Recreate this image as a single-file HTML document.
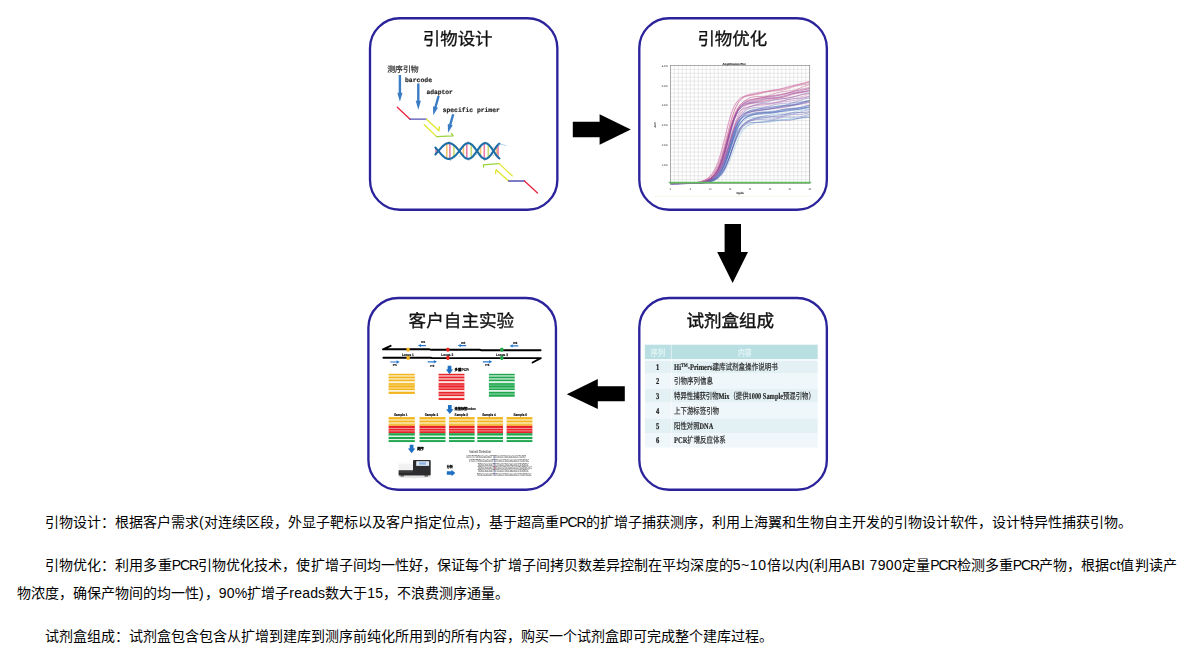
<!DOCTYPE html>
<html lang="zh-CN">
<head>
<meta charset="utf-8">
<title>引物设计</title>
<style>
html,body{margin:0;padding:0;background:#fff;}
body{width:1190px;height:660px;overflow:hidden;position:relative;font-family:"Liberation Sans",sans-serif;color:#000;}
#fig{position:absolute;left:0;top:0;width:1190px;height:505px;}
.box{position:absolute;box-sizing:border-box;width:190px;height:194px;border:2.4px solid #2c259d;border-radius:31px;background:#fff;}
.ttl{position:absolute;font-size:17.4px;line-height:20px;color:#161616;white-space:nowrap;}
#b1{left:369px;top:17px;}
#b2{left:638px;top:17px;}
#b3{left:367.2px;top:296.8px;}
#b4{left:638px;top:296.8px;}
svg text{font-family:"Liberation Sans",sans-serif;text-rendering:geometricPrecision;}
svg .im{filter:blur(0.45px);}
svg .tt{filter:blur(0.25px);}
svg text.mono{font-family:"Liberation Mono",monospace;}
svg text.serif{font-family:"Liberation Serif",serif;}
p{position:absolute;margin:0;left:17px;width:1159.7px;text-align:justify;font-size:14px;line-height:28px;text-indent:28px;color:#000;}
#p1{top:507.5px;}
#p2{top:550.5px;}
#p3{top:621.5px;}
.n{letter-spacing:-1.1px;}
.w1{letter-spacing:0.62px;}
.w2{letter-spacing:0.31px;}
.w3{letter-spacing:0.2px;}
.w4{letter-spacing:1px;}
</style>
</head>
<body>
<div id="fig">
  <svg id="art" width="1190" height="505" viewBox="0 0 1190 505" style="position:absolute;left:0;top:0">
    <g id="boxes" class="tt" fill="#fff" stroke="#2b239b" stroke-width="2.35">
      <rect x="370" y="18.25" width="187.35" height="191.5" rx="29.8" ry="29.8"/>
      <rect x="639.3" y="18.25" width="187.55" height="191.5" rx="29.8" ry="29.8"/>
      <rect x="368.4" y="297.95" width="187.55" height="191.75" rx="29.8" ry="29.8"/>
      <rect x="639.3" y="297.95" width="187.55" height="191.75" rx="29.8" ry="29.8"/>
    </g>
    <g id="arrows" fill="#000">
      <polygon points="572.8,121.8 599.6,121.8 599.6,114.3 630.8,129.4 599.6,144.8 599.6,137.2 572.8,137.2"/>
      <polygon points="724.6,224 741,224 741,252 748,252 732.6,283 717.2,252 724.6,252"/>
      <polygon points="624.8,386.2 597.8,386.2 597.8,379 566.8,394.2 597.8,409 597.8,401.3 624.8,401.3"/>
    </g>
    <g id="titles" class="tt" font-size="17.45" fill="#111" stroke="#111" stroke-width="0.32">
      <text x="422.8" y="45.2">引物设计</text>
      <text x="697.4" y="45.2">引物优化</text>
      <text x="408.6" y="327.2" font-size="17.6">客户自主实验</text>
      <text x="686.5" y="327.3" font-size="17.55" font-weight="500" stroke-width="0.42">试剂盒组成</text>
    </g>
    <g id="g1" class="im">
<text transform="translate(387.2,71.6) scale(0.0994,0.1)" font-size="79" fill="#303030" stroke="#303030" stroke-width="2.2">测序引物</text>
<text transform="translate(405,82) scale(0.1004,0.1)" font-size="64" class="mono" font-weight="bold" fill="#1c1c1c" stroke="#1c1c1c" stroke-width="1.6">barcode</text>
<text transform="translate(426.4,94.3) scale(0.0982,0.1)" font-size="64" class="mono" font-weight="bold" fill="#1c1c1c" stroke="#1c1c1c" stroke-width="1.6">adaptor</text>
<text transform="translate(442.7,112.4) scale(0.0991,0.1)" font-size="64" class="mono" font-weight="bold" fill="#1c1c1c" stroke="#1c1c1c" stroke-width="1.6">specific primer</text>
<polygon points="398.7,74.9 398.7,92.8 397.3,92.8 399.9,101.8 402.5,92.8 401.1,92.8 401.1,74.9" fill="#3b7dc4"/>
<polygon points="417.1,83.4 417.1,100.8 415.7,100.8 418.3,109.8 420.9,100.8 419.5,100.8 419.5,83.4" fill="#3b7dc4"/>
<polygon points="437.44,95.68 434.35,106.69 433,106.31 433.2,115.2 438,107.72 436.66,107.34 439.76,96.32" fill="#3b7dc4"/>
<polygon points="452.04,113.88 449.13,124.29 447.78,123.91 448,132.8 452.79,125.31 451.44,124.94 454.36,114.52" fill="#3b7dc4"/>
<g fill="none" stroke-width="1.3" stroke-linecap="round" stroke-linejoin="round">
<path d="M397.3 107.3 L410.1 119.2" stroke="#ea2340"/>
<path d="M410.1 119.2 H426.5" stroke="#5350b4"/>
<path d="M426.5 119.2 L439 130.8 L439.3 126.6" stroke="#dfe62b"/>
<path d="M424.2 124.8 L436.7 136.6" stroke="#dfe62b"/>
<path d="M436.7 136.6 L453.2 135.9 L451.4 133.5" stroke="#9bd43c"/>
<path d="M483.7 167 L483.3 164.8 L499.2 163.6" stroke="#9bd43c"/>
<path d="M499.2 163.6 L512.3 175.9" stroke="#dfe62b"/>
<path d="M495.5 173.6 L496.1 169.7 L508.6 181" stroke="#dfe62b"/>
<path d="M508.6 181 H524.5" stroke="#5350b4"/>
<path d="M524.5 181 L537.5 193" stroke="#ea2340"/>
</g>
<line x1="436" y1="148.52" x2="436" y2="153.48" stroke="#e77ba9" stroke-width="1.6"/>
<line x1="446.8" y1="143.79" x2="446.8" y2="158.21" stroke="#f6c36c" stroke-width="1.6"/>
<line x1="449.9" y1="143.49" x2="449.9" y2="158.51" stroke="#e77ba9" stroke-width="1.6"/>
<line x1="453.9" y1="145.51" x2="453.9" y2="156.49" stroke="#c6d96f" stroke-width="1.6"/>
<line x1="463.4" y1="146.13" x2="463.4" y2="155.87" stroke="#f6c36c" stroke-width="1.6"/>
<line x1="466.8" y1="143.65" x2="466.8" y2="158.35" stroke="#e77ba9" stroke-width="1.6"/>
<line x1="471.3" y1="144.58" x2="471.3" y2="157.42" stroke="#c6d96f" stroke-width="1.6"/>
<line x1="480.5" y1="146.42" x2="480.5" y2="155.58" stroke="#f6c36c" stroke-width="1.6"/>
<line x1="484.3" y1="143.53" x2="484.3" y2="158.47" stroke="#e77ba9" stroke-width="1.6"/>
<line x1="488.3" y1="144.7" x2="488.3" y2="157.3" stroke="#c6d96f" stroke-width="1.6"/>
<line x1="496.4" y1="146.92" x2="496.4" y2="155.08" stroke="#f6c36c" stroke-width="1.6"/>
<line x1="498" y1="145.05" x2="498" y2="156.95" stroke="#e77ba9" stroke-width="1.6"/>
<path d="M435.4 154.43 L436.2 153.55 L437 152.64 L437.8 151.71 L438.6 150.76 L439.4 149.82 L440.2 148.9 L441 148 L441.8 147.15 L442.6 146.36 L443.4 145.63 L444.2 144.97 L445 144.41 L445.8 143.93 L446.6 143.56 L447.4 143.3 L448.2 143.14 L449 143.1 L449.8 143.17 L450.6 143.35 L451.4 143.65 L452.2 144.04 L453 144.54 L453.8 145.13 L454.6 145.8 L455.4 146.55 L456.2 147.36 L457 148.22 L457.8 149.13 L458.6 150.06 L459.4 151 L460.2 152.12 L461 153.23 L461.8 154.28 L462.6 155.27 L463.4 156.17 L464.2 156.97 L465 157.65 L465.8 158.19 L466.6 158.58 L467.4 158.82 L468.2 158.9 L469 158.82 L469.8 158.58 L470.6 158.19 L471.4 157.65 L472.2 156.97 L473 156.17 L473.8 155.27 L474.6 154.28 L475.4 153.23 L476.2 152.12 L477 151 L477.8 149.8 L478.6 148.63 L479.4 147.51 L480.2 146.48 L481 145.55 L481.8 144.74 L482.6 144.08 L483.4 143.59 L484.2 143.26 L485 143.11 L485.8 143.14 L486.6 143.36 L487.4 143.75 L488.2 144.31 L489 145.03 L489.8 145.88 L490.6 146.86 L491.4 147.92 L492.2 149.06 L493 150.25 L493.8 151.48 L494.6 152.75 L495.4 153.97 L496.2 155.11 L497 156.15 L497.8 157.05 L498.6 157.79 L499.4 158.35" fill="none" stroke="#1d6ea6" stroke-width="2.1" stroke-linecap="round" stroke-linejoin="round"/>
<path d="M435.4 147.57 L436.2 148.45 L437 149.36 L437.8 150.29 L438.6 151.24 L439.4 152.18 L440.2 153.1 L441 154 L441.8 154.85 L442.6 155.64 L443.4 156.37 L444.2 157.03 L445 157.59 L445.8 158.07 L446.6 158.44 L447.4 158.7 L448.2 158.86 L449 158.9 L449.8 158.83 L450.6 158.65 L451.4 158.35 L452.2 157.96 L453 157.46 L453.8 156.87 L454.6 156.2 L455.4 155.45 L456.2 154.64 L457 153.78 L457.8 152.87 L458.6 151.94 L459.4 151 L460.2 149.88 L461 148.77 L461.8 147.72 L462.6 146.73 L463.4 145.83 L464.2 145.03 L465 144.35 L465.8 143.81 L466.6 143.42 L467.4 143.18 L468.2 143.1 L469 143.18 L469.8 143.42 L470.6 143.81 L471.4 144.35 L472.2 145.03 L473 145.83 L473.8 146.73 L474.6 147.72 L475.4 148.77 L476.2 149.88 L477 151 L477.8 152.2 L478.6 153.37 L479.4 154.49 L480.2 155.52 L481 156.45 L481.8 157.26 L482.6 157.92 L483.4 158.41 L484.2 158.74 L485 158.89 L485.8 158.86 L486.6 158.64 L487.4 158.25 L488.2 157.69 L489 156.97 L489.8 156.12 L490.6 155.14 L491.4 154.08 L492.2 152.94 L493 151.75 L493.8 150.52 L494.6 149.25 L495.4 148.03 L496.2 146.89 L497 145.85 L497.8 144.95 L498.6 144.21 L499.4 143.65" fill="none" stroke="#1d6ea6" stroke-width="2.1" stroke-linecap="round" stroke-linejoin="round"/>
<path d="M498.5 144.3 Q502 143.6 506.2 145.9" fill="none" stroke="#7fb4d8" stroke-width="0.6"/>
<rect x="448.6" y="140.75" width="1.2" height="0.9" fill="#9a9a9a" opacity="0.7"/>
<rect x="467.4" y="141.15" width="1.2" height="0.9" fill="#9a9a9a" opacity="0.7"/>
<rect x="484.4" y="141.75" width="1.2" height="0.9" fill="#9a9a9a" opacity="0.7"/>
<rect x="449.9" y="160.15" width="1.2" height="0.9" fill="#9a9a9a" opacity="0.7"/>
<rect x="468" y="159.75" width="1.2" height="0.9" fill="#9a9a9a" opacity="0.7"/>
<rect x="484" y="159.95" width="1.2" height="0.9" fill="#9a9a9a" opacity="0.7"/>
<rect x="458.7" y="148.15" width="1.2" height="0.9" fill="#9a9a9a" opacity="0.7"/>
<rect x="458.7" y="155.75" width="1.2" height="0.9" fill="#9a9a9a" opacity="0.7"/>
<rect x="475.8" y="154.15" width="1.2" height="0.9" fill="#9a9a9a" opacity="0.7"/>
<rect x="492.6" y="146.75" width="1.2" height="0.9" fill="#9a9a9a" opacity="0.7"/>
<rect x="492.6" y="154.95" width="1.2" height="0.9" fill="#9a9a9a" opacity="0.7"/>
    </g>
    <g id="g2" class="im">
<path d="M674.38 65.4V183.6M678.36 65.4V183.6M682.34 65.4V183.6M686.32 65.4V183.6M690.3 65.4V183.6M694.28 65.4V183.6M698.26 65.4V183.6M702.24 65.4V183.6M706.22 65.4V183.6M710.2 65.4V183.6M714.18 65.4V183.6M718.16 65.4V183.6M722.14 65.4V183.6M726.12 65.4V183.6M730.1 65.4V183.6M734.08 65.4V183.6M738.06 65.4V183.6M742.04 65.4V183.6M746.02 65.4V183.6M750 65.4V183.6M753.98 65.4V183.6M757.96 65.4V183.6M761.94 65.4V183.6M765.92 65.4V183.6M769.9 65.4V183.6M773.88 65.4V183.6M777.86 65.4V183.6M781.84 65.4V183.6M785.82 65.4V183.6M789.8 65.4V183.6M793.78 65.4V183.6M797.76 65.4V183.6M801.74 65.4V183.6M805.72 65.4V183.6M670.4 69.34H809.7M670.4 73.28H809.7M670.4 77.22H809.7M670.4 81.16H809.7M670.4 85.1H809.7M670.4 89.04H809.7M670.4 92.98H809.7M670.4 96.92H809.7M670.4 100.86H809.7M670.4 104.8H809.7M670.4 108.74H809.7M670.4 112.68H809.7M670.4 116.62H809.7M670.4 120.56H809.7M670.4 124.5H809.7M670.4 128.44H809.7M670.4 132.38H809.7M670.4 136.32H809.7M670.4 140.26H809.7M670.4 144.2H809.7M670.4 148.14H809.7M670.4 152.08H809.7M670.4 156.02H809.7M670.4 159.96H809.7M670.4 163.9H809.7M670.4 167.84H809.7M670.4 171.78H809.7M670.4 175.72H809.7M670.4 179.66H809.7" stroke="#d4d4d4" stroke-width="0.5" fill="none"/>
<path d="M670.4 183.58 L672.39 183.58 L674.38 183.57 L676.37 183.56 L678.36 183.54 L680.35 183.53 L682.34 183.5 L684.33 183.47 L686.32 183.42 L688.31 183.37 L690.3 183.29 L692.29 183.18 L694.28 183.05 L696.27 182.86 L698.26 182.62 L700.25 182.29 L702.24 181.85 L704.23 181.26 L706.22 180.47 L708.21 179.42 L710.2 178.02 L712.19 176.19 L714.18 173.79 L716.17 170.7 L718.16 166.75 L720.15 161.82 L722.14 155.83 L724.13 148.81 L726.12 141 L728.11 132.8 L730.1 124.79 L732.09 117.52 L734.08 111.37 L736.07 106.51 L738.06 102.88 L740.05 100.25 L742.04 98.37 L744.03 97.14 L746.02 96.36 L748.01 95.88 L750 95.56 L751.99 95.3 L753.98 95.01 L755.97 94.66 L757.96 94.23 L759.95 93.73 L761.94 93.18 L763.93 92.64 L765.92 92.15 L767.91 91.73 L769.9 91.41 L771.89 91.18 L773.88 91.01 L775.87 90.88 L777.86 90.74 L779.85 90.53 L781.84 90.22 L783.83 89.8 L785.82 89.27 L787.81 88.65 L789.8 87.97 L791.79 87.29 L793.78 86.65 L795.77 86.09 L797.76 85.62 L799.75 85.24 L801.74 84.92 L803.73 84.64 L805.72 84.33 L807.71 83.97 L809.7 83.5" stroke="#c04a6e" stroke-width="0.5" fill="none" opacity="0.8"/>
<path d="M670.4 183.58 L672.39 183.57 L674.38 183.56 L676.37 183.55 L678.36 183.54 L680.35 183.52 L682.34 183.5 L684.33 183.46 L686.32 183.42 L688.31 183.37 L690.3 183.3 L692.29 183.2 L694.28 183.08 L696.27 182.93 L698.26 182.73 L700.25 182.47 L702.24 182.13 L704.23 181.69 L706.22 181.11 L708.21 180.36 L710.2 179.39 L712.19 178.13 L714.18 176.51 L716.17 174.43 L718.16 171.82 L720.15 168.57 L722.14 164.61 L724.13 159.92 L726.12 154.55 L728.11 148.68 L730.1 142.58 L732.09 136.61 L734.08 131.1 L736.07 126.32 L738.06 122.37 L740.05 119.25 L742.04 116.84 L744.03 114.97 L746.02 113.6 L748.01 112.63 L750 111.97 L751.99 111.52 L753.98 111.22 L755.97 111 L757.96 110.8 L759.95 110.6 L761.94 110.35 L763.93 110.05 L765.92 109.7 L767.91 109.32 L769.9 108.92 L771.89 108.54 L773.88 108.2 L775.87 107.91 L777.86 107.67 L779.85 107.48 L781.84 107.31 L783.83 107.14 L785.82 106.94 L787.81 106.69 L789.8 106.37 L791.79 105.98 L793.78 105.53 L795.77 105.03 L797.76 104.53 L799.75 104.03 L801.74 103.57 L803.73 103.16 L805.72 102.81 L807.71 102.49 L809.7 102.2" stroke="#7346a0" stroke-width="0.5" fill="none" opacity="0.8"/>
<path d="M670.4 183.57 L672.39 183.56 L674.38 183.55 L676.37 183.54 L678.36 183.52 L680.35 183.49 L682.34 183.46 L684.33 183.42 L686.32 183.36 L688.31 183.29 L690.3 183.19 L692.29 183.06 L694.28 182.89 L696.27 182.67 L698.26 182.38 L700.25 182.01 L702.24 181.51 L704.23 180.86 L706.22 180.01 L708.21 178.9 L710.2 177.45 L712.19 175.58 L714.18 173.17 L716.17 170.12 L718.16 166.32 L720.15 161.67 L722.14 156.16 L724.13 149.88 L726.12 143.05 L728.11 136.04 L730.1 129.29 L732.09 123.2 L734.08 118.03 L736.07 113.89 L738.06 110.71 L740.05 108.29 L742.04 106.49 L744.03 105.2 L746.02 104.31 L748.01 103.7 L750 103.28 L751.99 102.98 L753.98 102.74 L755.97 102.5 L757.96 102.25 L759.95 101.96 L761.94 101.62 L763.93 101.26 L765.92 100.89 L767.91 100.52 L769.9 100.19 L771.89 99.89 L773.88 99.63 L775.87 99.41 L777.86 99.22 L779.85 99.03 L781.84 98.81 L783.83 98.56 L785.82 98.25 L787.81 97.88 L789.8 97.45 L791.79 96.99 L793.78 96.5 L795.77 96.02 L797.76 95.57 L799.75 95.15 L801.74 94.78 L803.73 94.44 L805.72 94.12 L807.71 93.8 L809.7 93.47" stroke="#b8387e" stroke-width="0.5" fill="none" opacity="0.8"/>
<path d="M670.4 183.59 L672.39 183.59 L674.38 183.59 L676.37 183.59 L678.36 183.58 L680.35 183.57 L682.34 183.57 L684.33 183.55 L686.32 183.54 L688.31 183.52 L690.3 183.49 L692.29 183.45 L694.28 183.4 L696.27 183.33 L698.26 183.24 L700.25 183.11 L702.24 182.95 L704.23 182.72 L706.22 182.42 L708.21 182.01 L710.2 181.45 L712.19 180.71 L714.18 179.71 L716.17 178.39 L718.16 176.64 L720.15 174.36 L722.14 171.44 L724.13 167.75 L726.12 163.24 L728.11 157.92 L730.1 151.96 L732.09 145.68 L734.08 139.53 L736.07 133.94 L738.06 129.23 L740.05 125.5 L742.04 122.72 L744.03 120.72 L746.02 119.31 L748.01 118.4 L750 117.85 L751.99 117.55 L753.98 117.39 L755.97 117.28 L757.96 117.15 L759.95 116.96 L761.94 116.68 L763.93 116.31 L765.92 115.88 L767.91 115.44 L769.9 115.01 L771.89 114.64 L773.88 114.36 L775.87 114.17 L777.86 114.07 L779.85 114.01 L781.84 113.97 L783.83 113.89 L785.82 113.74 L787.81 113.48 L789.8 113.12 L791.79 112.66 L793.78 112.13 L795.77 111.58 L797.76 111.04 L799.75 110.57 L801.74 110.18 L803.73 109.88 L805.72 109.66 L807.71 109.49 L809.7 109.33" stroke="#7ab6da" stroke-width="0.5" fill="none" opacity="0.8"/>
<path d="M670.4 183.59 L672.39 183.59 L674.38 183.59 L676.37 183.58 L678.36 183.58 L680.35 183.57 L682.34 183.56 L684.33 183.55 L686.32 183.53 L688.31 183.51 L690.3 183.47 L692.29 183.43 L694.28 183.37 L696.27 183.29 L698.26 183.19 L700.25 183.04 L702.24 182.85 L704.23 182.6 L706.22 182.26 L708.21 181.82 L710.2 181.22 L712.19 180.43 L714.18 179.37 L716.17 177.96 L718.16 176.09 L720.15 173.63 L722.14 170.45 L724.13 166.47 L726.12 161.65 L728.11 156.12 L730.1 150.16 L732.09 144.23 L734.08 138.78 L736.07 134.18 L738.06 130.57 L740.05 127.88 L742.04 125.91 L744.03 124.38 L746.02 123.16 L748.01 122.16 L750 121.32 L751.99 120.62 L753.98 120.09 L755.97 119.72 L757.96 119.54 L759.95 119.52 L761.94 119.61 L763.93 119.76 L765.92 119.91 L767.91 119.99 L769.9 119.95 L771.89 119.76 L773.88 119.43 L775.87 118.99 L777.86 118.49 L779.85 118 L781.84 117.57 L783.83 117.25 L785.82 117.07 L787.81 117.02 L789.8 117.07 L791.79 117.16 L793.78 117.24 L795.77 117.24 L797.76 117.12 L799.75 116.85 L801.74 116.43 L803.73 115.91 L805.72 115.33 L807.71 114.76 L809.7 114.25" stroke="#3f55b0" stroke-width="0.5" fill="none" opacity="0.8"/>
<path d="M670.4 183.59 L672.39 183.58 L674.38 183.57 L676.37 183.57 L678.36 183.55 L680.35 183.54 L682.34 183.52 L684.33 183.49 L686.32 183.46 L688.31 183.41 L690.3 183.35 L692.29 183.26 L694.28 183.15 L696.27 183 L698.26 182.8 L700.25 182.53 L702.24 182.17 L704.23 181.7 L706.22 181.06 L708.21 180.23 L710.2 179.13 L712.19 177.69 L714.18 175.81 L716.17 173.35 L718.16 170.19 L720.15 166.18 L722.14 161.19 L724.13 155.17 L726.12 148.24 L728.11 140.7 L730.1 133.03 L732.09 125.83 L734.08 119.58 L736.07 114.57 L738.06 110.82 L740.05 108.18 L742.04 106.26 L744.03 104.92 L746.02 103.96 L748.01 103.21 L750 102.56 L751.99 101.96 L753.98 101.36 L755.97 100.79 L757.96 100.26 L759.95 99.79 L761.94 99.41 L763.93 99.13 L765.92 98.93 L767.91 98.79 L769.9 98.66 L771.89 98.52 L773.88 98.3 L775.87 98 L777.86 97.59 L779.85 97.08 L781.84 96.49 L783.83 95.87 L785.82 95.25 L787.81 94.67 L789.8 94.17 L791.79 93.75 L793.78 93.4 L795.77 93.11 L797.76 92.83 L799.75 92.52 L801.74 92.15 L803.73 91.68 L805.72 91.1 L807.71 90.43 L809.7 89.68" stroke="#c2468c" stroke-width="0.5" fill="none" opacity="0.8"/>
<path d="M670.4 183.59 L672.39 183.58 L674.38 183.58 L676.37 183.57 L678.36 183.56 L680.35 183.55 L682.34 183.53 L684.33 183.51 L686.32 183.48 L688.31 183.45 L690.3 183.4 L692.29 183.34 L694.28 183.26 L696.27 183.15 L698.26 183.02 L700.25 182.83 L702.24 182.59 L704.23 182.28 L706.22 181.86 L708.21 181.32 L710.2 180.61 L712.19 179.69 L714.18 178.5 L716.17 176.97 L718.16 175.01 L720.15 172.52 L722.14 169.4 L724.13 165.55 L726.12 160.94 L728.11 155.59 L730.1 149.68 L732.09 143.51 L734.08 137.49 L736.07 132.01 L738.06 127.38 L740.05 123.72 L742.04 120.99 L744.03 119.02 L746.02 117.61 L748.01 116.63 L750 115.92 L751.99 115.37 L753.98 114.89 L755.97 114.43 L757.96 113.97 L759.95 113.53 L761.94 113.11 L763.93 112.75 L765.92 112.46 L767.91 112.24 L769.9 112.1 L771.89 112.01 L773.88 111.95 L775.87 111.87 L777.86 111.75 L779.85 111.55 L781.84 111.27 L783.83 110.91 L785.82 110.48 L787.81 110.02 L789.8 109.56 L791.79 109.12 L793.78 108.75 L795.77 108.44 L797.76 108.2 L799.75 108.01 L801.74 107.84 L803.73 107.66 L805.72 107.42 L807.71 107.11 L809.7 106.71" stroke="#5a78c8" stroke-width="0.5" fill="none" opacity="0.8"/>
<path d="M670.4 183.58 L672.39 183.58 L674.38 183.57 L676.37 183.56 L678.36 183.55 L680.35 183.53 L682.34 183.51 L684.33 183.48 L686.32 183.44 L688.31 183.39 L690.3 183.32 L692.29 183.22 L694.28 183.1 L696.27 182.93 L698.26 182.72 L700.25 182.43 L702.24 182.04 L704.23 181.53 L706.22 180.87 L708.21 179.99 L710.2 178.83 L712.19 177.3 L714.18 175.31 L716.17 172.72 L718.16 169.39 L720.15 165.17 L722.14 159.96 L724.13 153.74 L726.12 146.64 L728.11 139.01 L730.1 131.35 L732.09 124.22 L734.08 118.07 L736.07 113.13 L738.06 109.38 L740.05 106.65 L742.04 104.57 L744.03 103.02 L746.02 101.84 L748.01 100.91 L750 100.14 L751.99 99.5 L753.98 98.98 L755.97 98.55 L757.96 98.22 L759.95 97.98 L761.94 97.8 L763.93 97.65 L765.92 97.49 L767.91 97.31 L769.9 97.06 L771.89 96.74 L773.88 96.35 L775.87 95.89 L777.86 95.39 L779.85 94.87 L781.84 94.38 L783.83 93.92 L785.82 93.53 L787.81 93.18 L789.8 92.89 L791.79 92.61 L793.78 92.32 L795.77 91.99 L797.76 91.6 L799.75 91.13 L801.74 90.58 L803.73 89.97 L805.72 89.32 L807.71 88.66 L809.7 88.02" stroke="#b8387e" stroke-width="0.5" fill="none" opacity="0.8"/>
<path d="M670.4 183.59 L672.39 183.59 L674.38 183.58 L676.37 183.58 L678.36 183.57 L680.35 183.56 L682.34 183.55 L684.33 183.54 L686.32 183.52 L688.31 183.49 L690.3 183.45 L692.29 183.4 L694.28 183.33 L696.27 183.24 L698.26 183.13 L700.25 182.97 L702.24 182.76 L704.23 182.48 L706.22 182.11 L708.21 181.63 L710.2 180.98 L712.19 180.13 L714.18 179 L716.17 177.5 L718.16 175.53 L720.15 172.97 L722.14 169.69 L724.13 165.58 L726.12 160.6 L728.11 154.85 L730.1 148.55 L732.09 142.12 L734.08 136.03 L736.07 130.7 L738.06 126.35 L740.05 122.98 L742.04 120.46 L744.03 118.53 L746.02 117.02 L748.01 115.83 L750 114.88 L751.99 114.12 L753.98 113.55 L755.97 113.14 L757.96 112.88 L759.95 112.75 L761.94 112.7 L763.93 112.69 L765.92 112.68 L767.91 112.6 L769.9 112.42 L771.89 112.14 L773.88 111.76 L775.87 111.29 L777.86 110.79 L779.85 110.3 L781.84 109.85 L783.83 109.48 L785.82 109.21 L787.81 109.03 L789.8 108.91 L791.79 108.81 L793.78 108.69 L795.77 108.5 L797.76 108.21 L799.75 107.81 L801.74 107.3 L803.73 106.71 L805.72 106.09 L807.71 105.47 L809.7 104.91" stroke="#3848a0" stroke-width="0.5" fill="none" opacity="0.8"/>
<path d="M670.4 183.59 L672.39 183.58 L674.38 183.58 L676.37 183.57 L678.36 183.56 L680.35 183.55 L682.34 183.53 L684.33 183.5 L686.32 183.47 L688.31 183.42 L690.3 183.36 L692.29 183.28 L694.28 183.16 L696.27 183.01 L698.26 182.81 L700.25 182.54 L702.24 182.17 L704.23 181.68 L706.22 181.01 L708.21 180.12 L710.2 178.92 L712.19 177.31 L714.18 175.17 L716.17 172.34 L718.16 168.68 L720.15 164.05 L722.14 158.37 L724.13 151.71 L726.12 144.34 L728.11 136.74 L730.1 129.51 L732.09 123.15 L734.08 117.96 L736.07 113.96 L738.06 110.99 L740.05 108.76 L742.04 107.05 L744.03 105.78 L746.02 104.83 L748.01 104.14 L750 103.65 L751.99 103.33 L753.98 103.13 L755.97 103.01 L757.96 102.92 L759.95 102.81 L761.94 102.64 L763.93 102.39 L765.92 102.05 L767.91 101.62 L769.9 101.13 L771.89 100.62 L773.88 100.13 L775.87 99.68 L777.86 99.3 L779.85 99 L781.84 98.76 L783.83 98.57 L785.82 98.37 L787.81 98.14 L789.8 97.85 L791.79 97.46 L793.78 96.98 L795.77 96.41 L797.76 95.78 L799.75 95.13 L801.74 94.49 L803.73 93.9 L805.72 93.38 L807.71 92.94 L809.7 92.56" stroke="#6a58b4" stroke-width="0.5" fill="none" opacity="0.8"/>
<path d="M670.4 183.58 L672.39 183.58 L674.38 183.57 L676.37 183.56 L678.36 183.55 L680.35 183.53 L682.34 183.51 L684.33 183.48 L686.32 183.44 L688.31 183.39 L690.3 183.33 L692.29 183.24 L694.28 183.13 L696.27 182.99 L698.26 182.8 L700.25 182.55 L702.24 182.21 L704.23 181.77 L706.22 181.19 L708.21 180.44 L710.2 179.46 L712.19 178.19 L714.18 176.56 L716.17 174.48 L718.16 171.85 L720.15 168.55 L722.14 164.5 L724.13 159.63 L726.12 153.97 L728.11 147.7 L730.1 141.12 L732.09 134.66 L734.08 128.76 L736.07 123.75 L738.06 119.79 L740.05 116.87 L742.04 114.81 L744.03 113.38 L746.02 112.45 L748.01 111.83 L750 111.36 L751.99 110.93 L753.98 110.46 L755.97 109.93 L757.96 109.35 L759.95 108.76 L761.94 108.2 L763.93 107.73 L765.92 107.38 L767.91 107.16 L769.9 107.06 L771.89 107.04 L773.88 107.05 L775.87 107.02 L777.86 106.91 L779.85 106.66 L781.84 106.27 L783.83 105.75 L785.82 105.13 L787.81 104.47 L789.8 103.82 L791.79 103.25 L793.78 102.79 L795.77 102.45 L797.76 102.23 L799.75 102.08 L801.74 101.96 L803.73 101.8 L805.72 101.54 L807.71 101.16 L809.7 100.63" stroke="#4a66bc" stroke-width="0.5" fill="none" opacity="0.8"/>
<path d="M670.4 183.57 L672.39 183.56 L674.38 183.55 L676.37 183.54 L678.36 183.52 L680.35 183.49 L682.34 183.45 L684.33 183.41 L686.32 183.34 L688.31 183.26 L690.3 183.15 L692.29 183 L694.28 182.8 L696.27 182.53 L698.26 182.18 L700.25 181.71 L702.24 181.09 L704.23 180.26 L706.22 179.17 L708.21 177.73 L710.2 175.85 L712.19 173.4 L714.18 170.25 L716.17 166.24 L718.16 161.25 L720.15 155.19 L722.14 148.13 L724.13 140.29 L726.12 132.12 L728.11 124.19 L730.1 117.04 L732.09 111.06 L734.08 106.39 L736.07 102.94 L738.06 100.44 L740.05 98.64 L742.04 97.41 L744.03 96.56 L746.02 95.93 L748.01 95.42 L750 94.96 L751.99 94.49 L753.98 94.01 L755.97 93.52 L757.96 93.04 L759.95 92.58 L761.94 92.16 L763.93 91.8 L765.92 91.5 L767.91 91.24 L769.9 91 L771.89 90.75 L773.88 90.47 L775.87 90.13 L777.86 89.72 L779.85 89.22 L781.84 88.67 L783.83 88.07 L785.82 87.46 L787.81 86.86 L789.8 86.29 L791.79 85.78 L793.78 85.31 L795.77 84.89 L797.76 84.48 L799.75 84.07 L801.74 83.62 L803.73 83.11 L805.72 82.52 L807.71 81.86 L809.7 81.13" stroke="#c2468c" stroke-width="0.5" fill="none" opacity="0.8"/>
<path d="M670.4 183.59 L672.39 183.59 L674.38 183.59 L676.37 183.58 L678.36 183.58 L680.35 183.57 L682.34 183.56 L684.33 183.55 L686.32 183.53 L688.31 183.51 L690.3 183.47 L692.29 183.43 L694.28 183.37 L696.27 183.29 L698.26 183.18 L700.25 183.03 L702.24 182.83 L704.23 182.56 L706.22 182.19 L708.21 181.7 L710.2 181.04 L712.19 180.15 L714.18 178.96 L716.17 177.38 L718.16 175.28 L720.15 172.52 L722.14 168.97 L724.13 164.5 L726.12 159.06 L728.11 152.78 L730.1 145.97 L732.09 139.12 L734.08 132.81 L736.07 127.46 L738.06 123.26 L740.05 120.19 L742.04 118.04 L744.03 116.48 L746.02 115.38 L748.01 114.58 L750 113.98 L751.99 113.48 L753.98 113.06 L755.97 112.69 L757.96 112.38 L759.95 112.12 L761.94 111.91 L763.93 111.75 L765.92 111.61 L767.91 111.5 L769.9 111.37 L771.89 111.22 L773.88 111.03 L775.87 110.8 L777.86 110.51 L779.85 110.19 L781.84 109.84 L783.83 109.48 L785.82 109.13 L787.81 108.81 L789.8 108.53 L791.79 108.27 L793.78 108.04 L795.77 107.83 L797.76 107.6 L799.75 107.34 L801.74 107.05 L803.73 106.7 L805.72 106.31 L807.71 105.87 L809.7 105.41" stroke="#4a66bc" stroke-width="0.5" fill="none" opacity="0.8"/>
<path d="M670.4 183.59 L672.39 183.59 L674.38 183.59 L676.37 183.58 L678.36 183.58 L680.35 183.57 L682.34 183.56 L684.33 183.55 L686.32 183.53 L688.31 183.51 L690.3 183.48 L692.29 183.43 L694.28 183.37 L696.27 183.29 L698.26 183.19 L700.25 183.05 L702.24 182.86 L704.23 182.61 L706.22 182.27 L708.21 181.82 L710.2 181.21 L712.19 180.38 L714.18 179.27 L716.17 177.79 L718.16 175.82 L720.15 173.23 L722.14 169.9 L724.13 165.69 L726.12 160.56 L728.11 154.56 L730.1 147.92 L732.09 141.05 L734.08 134.45 L736.07 128.56 L738.06 123.66 L740.05 119.79 L742.04 116.85 L744.03 114.61 L746.02 112.9 L748.01 111.66 L750 110.79 L751.99 110.23 L753.98 109.9 L755.97 109.75 L757.96 109.69 L759.95 109.66 L761.94 109.6 L763.93 109.46 L765.92 109.21 L767.91 108.84 L769.9 108.37 L771.89 107.84 L773.88 107.3 L775.87 106.8 L777.86 106.38 L779.85 106.07 L781.84 105.85 L783.83 105.72 L785.82 105.62 L787.81 105.52 L789.8 105.36 L791.79 105.11 L793.78 104.73 L795.77 104.23 L797.76 103.62 L799.75 102.96 L801.74 102.29 L803.73 101.65 L805.72 101.1 L807.71 100.65 L809.7 100.3" stroke="#6fa8d4" stroke-width="0.5" fill="none" opacity="0.8"/>
<path d="M670.4 183.58 L672.39 183.58 L674.38 183.57 L676.37 183.56 L678.36 183.55 L680.35 183.53 L682.34 183.51 L684.33 183.48 L686.32 183.45 L688.31 183.4 L690.3 183.33 L692.29 183.25 L694.28 183.14 L696.27 182.99 L698.26 182.79 L700.25 182.52 L702.24 182.17 L704.23 181.71 L706.22 181.09 L708.21 180.28 L710.2 179.21 L712.19 177.82 L714.18 176 L716.17 173.66 L718.16 170.67 L720.15 166.88 L722.14 162.2 L724.13 156.54 L726.12 149.95 L728.11 142.64 L730.1 134.99 L732.09 127.52 L734.08 120.74 L736.07 115.02 L738.06 110.51 L740.05 107.19 L742.04 104.8 L744.03 103.13 L746.02 102.02 L748.01 101.29 L750 100.76 L751.99 100.32 L753.98 99.89 L755.97 99.41 L757.96 98.89 L759.95 98.33 L761.94 97.78 L763.93 97.27 L765.92 96.83 L767.91 96.49 L769.9 96.25 L771.89 96.09 L773.88 95.97 L775.87 95.85 L777.86 95.68 L779.85 95.42 L781.84 95.05 L783.83 94.56 L785.82 93.97 L787.81 93.31 L789.8 92.64 L791.79 92 L793.78 91.43 L795.77 90.94 L797.76 90.56 L799.75 90.24 L801.74 89.97 L803.73 89.69 L805.72 89.36 L807.71 88.94 L809.7 88.4" stroke="#8a4aa8" stroke-width="0.5" fill="none" opacity="0.8"/>
<path d="M670.4 183.59 L672.39 183.58 L674.38 183.58 L676.37 183.57 L678.36 183.56 L680.35 183.55 L682.34 183.53 L684.33 183.5 L686.32 183.47 L688.31 183.43 L690.3 183.37 L692.29 183.29 L694.28 183.18 L696.27 183.03 L698.26 182.83 L700.25 182.57 L702.24 182.21 L704.23 181.73 L706.22 181.08 L708.21 180.21 L710.2 179.04 L712.19 177.48 L714.18 175.4 L716.17 172.68 L718.16 169.14 L720.15 164.64 L722.14 159.07 L724.13 152.42 L726.12 144.89 L728.11 136.89 L730.1 128.99 L732.09 121.79 L734.08 115.72 L736.07 110.93 L738.06 107.37 L740.05 104.8 L742.04 102.89 L744.03 101.57 L746.02 100.67 L748.01 100.05 L750 99.62 L751.99 99.29 L753.98 99.02 L755.97 98.74 L757.96 98.44 L759.95 98.09 L761.94 97.71 L763.93 97.3 L765.92 96.87 L767.91 96.44 L769.9 96.04 L771.89 95.67 L773.88 95.34 L775.87 95.04 L777.86 94.76 L779.85 94.47 L781.84 94.16 L783.83 93.8 L785.82 93.39 L787.81 92.91 L789.8 92.39 L791.79 91.82 L793.78 91.24 L795.77 90.66 L797.76 90.1 L799.75 89.58 L801.74 89.09 L803.73 88.63 L805.72 88.18 L807.71 87.73 L809.7 87.25" stroke="#b8387e" stroke-width="0.5" fill="none" opacity="0.8"/>
<path d="M670.4 183.56 L672.39 183.55 L674.38 183.54 L676.37 183.52 L678.36 183.5 L680.35 183.47 L682.34 183.42 L684.33 183.37 L686.32 183.3 L688.31 183.21 L690.3 183.09 L692.29 182.93 L694.28 182.73 L696.27 182.47 L698.26 182.13 L700.25 181.69 L702.24 181.11 L704.23 180.36 L706.22 179.37 L708.21 178.09 L710.2 176.43 L712.19 174.3 L714.18 171.58 L716.17 168.17 L718.16 163.96 L720.15 158.87 L722.14 152.88 L724.13 146.1 L726.12 138.76 L728.11 131.23 L730.1 123.94 L732.09 117.3 L734.08 111.58 L736.07 106.91 L738.06 103.27 L740.05 100.46 L742.04 98.35 L744.03 96.87 L746.02 95.87 L748.01 95.23 L750 94.82 L751.99 94.54 L753.98 94.29 L755.97 94.01 L757.96 93.66 L759.95 93.22 L761.94 92.69 L763.93 92.13 L765.92 91.55 L767.91 91.01 L769.9 90.55 L771.89 90.19 L773.88 89.92 L775.87 89.72 L777.86 89.57 L779.85 89.4 L781.84 89.17 L783.83 88.86 L785.82 88.42 L787.81 87.87 L789.8 87.22 L791.79 86.51 L793.78 85.8 L795.77 85.11 L797.76 84.5 L799.75 83.98 L801.74 83.56 L803.73 83.2 L805.72 82.89 L807.71 82.56 L809.7 82.17" stroke="#cf5d9c" stroke-width="0.5" fill="none" opacity="0.8"/>
<path d="M670.4 183.59 L672.39 183.59 L674.38 183.59 L676.37 183.58 L678.36 183.58 L680.35 183.57 L682.34 183.56 L684.33 183.55 L686.32 183.53 L688.31 183.5 L690.3 183.47 L692.29 183.42 L694.28 183.36 L696.27 183.28 L698.26 183.17 L700.25 183.03 L702.24 182.83 L704.23 182.57 L706.22 182.23 L708.21 181.76 L710.2 181.14 L712.19 180.31 L714.18 179.2 L716.17 177.72 L718.16 175.76 L720.15 173.21 L722.14 169.92 L724.13 165.79 L726.12 160.79 L728.11 154.99 L730.1 148.65 L732.09 142.2 L734.08 136.12 L736.07 130.81 L738.06 126.5 L740.05 123.17 L742.04 120.7 L744.03 118.83 L746.02 117.41 L748.01 116.36 L750 115.57 L751.99 115 L753.98 114.6 L755.97 114.35 L757.96 114.2 L759.95 114.11 L761.94 114.05 L763.93 113.98 L765.92 113.86 L767.91 113.68 L769.9 113.41 L771.89 113.08 L773.88 112.7 L775.87 112.3 L777.86 111.91 L779.85 111.57 L781.84 111.28 L783.83 111.06 L785.82 110.89 L787.81 110.75 L789.8 110.62 L791.79 110.46 L793.78 110.24 L795.77 109.95 L797.76 109.58 L799.75 109.14 L801.74 108.65 L803.73 108.14 L805.72 107.65 L807.71 107.19 L809.7 106.8" stroke="#4a78c0" stroke-width="0.5" fill="none" opacity="0.8"/>
<path d="M670.4 183.59 L672.39 183.59 L674.38 183.59 L676.37 183.58 L678.36 183.58 L680.35 183.57 L682.34 183.56 L684.33 183.55 L686.32 183.53 L688.31 183.51 L690.3 183.48 L692.29 183.44 L694.28 183.38 L696.27 183.31 L698.26 183.21 L700.25 183.09 L702.24 182.92 L704.23 182.7 L706.22 182.41 L708.21 182.03 L710.2 181.52 L712.19 180.86 L714.18 179.98 L716.17 178.82 L718.16 177.29 L720.15 175.31 L722.14 172.76 L724.13 169.54 L726.12 165.61 L728.11 160.98 L730.1 155.8 L732.09 150.33 L734.08 144.96 L736.07 140.06 L738.06 135.89 L740.05 132.54 L742.04 129.97 L744.03 128.02 L746.02 126.46 L748.01 125.25 L750 124.3 L751.99 123.57 L753.98 123.02 L755.97 122.64 L757.96 122.4 L759.95 122.28 L761.94 122.24 L763.93 122.24 L765.92 122.22 L767.91 122.16 L769.9 122.01 L771.89 121.77 L773.88 121.44 L775.87 121.04 L777.86 120.62 L779.85 120.2 L781.84 119.83 L783.83 119.53 L785.82 119.32 L787.81 119.18 L789.8 119.09 L791.79 119.02 L793.78 118.92 L795.77 118.77 L797.76 118.52 L799.75 118.18 L801.74 117.75 L803.73 117.25 L805.72 116.72 L807.71 116.21 L809.7 115.74" stroke="#7ab6da" stroke-width="0.5" fill="none" opacity="0.8"/>
<path d="M670.4 183.58 L672.39 183.58 L674.38 183.57 L676.37 183.56 L678.36 183.55 L680.35 183.53 L682.34 183.51 L684.33 183.48 L686.32 183.44 L688.31 183.39 L690.3 183.32 L692.29 183.22 L694.28 183.1 L696.27 182.93 L698.26 182.71 L700.25 182.42 L702.24 182.03 L704.23 181.5 L706.22 180.81 L708.21 179.9 L710.2 178.69 L712.19 177.11 L714.18 175.05 L716.17 172.38 L718.16 168.97 L720.15 164.67 L722.14 159.38 L724.13 153.1 L726.12 145.98 L728.11 138.35 L730.1 130.73 L732.09 123.67 L734.08 117.62 L736.07 112.79 L738.06 109.17 L740.05 106.61 L742.04 104.76 L744.03 103.5 L746.02 102.64 L748.01 102.03 L750 101.53 L751.99 101.08 L753.98 100.63 L755.97 100.18 L757.96 99.73 L759.95 99.31 L761.94 98.92 L763.93 98.6 L765.92 98.34 L767.91 98.15 L769.9 98 L771.89 97.87 L773.88 97.72 L775.87 97.53 L777.86 97.26 L779.85 96.92 L781.84 96.5 L783.83 96.01 L785.82 95.5 L787.81 94.98 L789.8 94.49 L791.79 94.05 L793.78 93.68 L795.77 93.36 L797.76 93.08 L799.75 92.82 L801.74 92.54 L803.73 92.21 L805.72 91.81 L807.71 91.33 L809.7 90.77" stroke="#b060a8" stroke-width="0.5" fill="none" opacity="0.8"/>
<path d="M670.4 183.58 L672.39 183.57 L674.38 183.56 L676.37 183.55 L678.36 183.54 L680.35 183.52 L682.34 183.49 L684.33 183.46 L686.32 183.42 L688.31 183.36 L690.3 183.29 L692.29 183.19 L694.28 183.07 L696.27 182.9 L698.26 182.69 L700.25 182.41 L702.24 182.05 L704.23 181.58 L706.22 180.97 L708.21 180.18 L710.2 179.17 L712.19 177.85 L714.18 176.15 L716.17 173.97 L718.16 171.2 L720.15 167.73 L722.14 163.46 L724.13 158.36 L726.12 152.49 L728.11 146.04 L730.1 139.36 L732.09 132.86 L734.08 126.96 L736.07 121.94 L738.06 117.89 L740.05 114.77 L742.04 112.38 L744.03 110.48 L746.02 109.01 L748.01 107.85 L750 106.92 L751.99 106.16 L753.98 105.55 L755.97 105.08 L757.96 104.72 L759.95 104.46 L761.94 104.26 L763.93 104.09 L765.92 103.92 L767.91 103.71 L769.9 103.44 L771.89 103.09 L773.88 102.66 L775.87 102.18 L777.86 101.66 L779.85 101.14 L781.84 100.64 L783.83 100.2 L785.82 99.8 L787.81 99.47 L789.8 99.17 L791.79 98.88 L793.78 98.57 L795.77 98.22 L797.76 97.79 L799.75 97.29 L801.74 96.71 L803.73 96.07 L805.72 95.4 L807.71 94.72 L809.7 94.07" stroke="#d47aae" stroke-width="0.5" fill="none" opacity="0.8"/>
<path d="M670.4 183.58 L672.39 183.58 L674.38 183.57 L676.37 183.56 L678.36 183.55 L680.35 183.53 L682.34 183.51 L684.33 183.48 L686.32 183.45 L688.31 183.4 L690.3 183.34 L692.29 183.26 L694.28 183.15 L696.27 183.01 L698.26 182.83 L700.25 182.6 L702.24 182.3 L704.23 181.91 L706.22 181.39 L708.21 180.73 L710.2 179.86 L712.19 178.72 L714.18 177.26 L716.17 175.37 L718.16 172.96 L720.15 169.93 L722.14 166.19 L724.13 161.68 L726.12 156.42 L728.11 150.54 L730.1 144.28 L732.09 138 L734.08 132.08 L736.07 126.84 L738.06 122.44 L740.05 118.93 L742.04 116.22 L744.03 114.08 L746.02 112.48 L748.01 111.3 L750 110.46 L751.99 109.87 L753.98 109.47 L755.97 109.2 L757.96 109.01 L759.95 108.85 L761.94 108.68 L763.93 108.47 L765.92 108.21 L767.91 107.9 L769.9 107.54 L771.89 107.16 L773.88 106.78 L775.87 106.42 L777.86 106.11 L779.85 105.84 L781.84 105.63 L783.83 105.45 L785.82 105.27 L787.81 105.09 L789.8 104.86 L791.79 104.57 L793.78 104.22 L795.77 103.8 L797.76 103.33 L799.75 102.83 L801.74 102.34 L803.73 101.87 L805.72 101.44 L807.71 101.06 L809.7 100.73" stroke="#4a4aa8" stroke-width="0.5" fill="none" opacity="0.8"/>
<path d="M670.4 183.59 L672.39 183.59 L674.38 183.58 L676.37 183.58 L678.36 183.57 L680.35 183.56 L682.34 183.55 L684.33 183.54 L686.32 183.52 L688.31 183.5 L690.3 183.47 L692.29 183.43 L694.28 183.37 L696.27 183.3 L698.26 183.21 L700.25 183.09 L702.24 182.93 L704.23 182.73 L706.22 182.46 L708.21 182.11 L710.2 181.66 L712.19 181.08 L714.18 180.32 L716.17 179.33 L718.16 178.06 L720.15 176.43 L722.14 174.34 L724.13 171.71 L726.12 168.46 L728.11 164.54 L730.1 159.97 L732.09 154.9 L734.08 149.56 L736.07 144.3 L738.06 139.46 L740.05 135.28 L742.04 131.9 L744.03 129.28 L746.02 127.32 L748.01 125.8 L750 124.65 L751.99 123.76 L753.98 123.07 L755.97 122.52 L757.96 122.09 L759.95 121.76 L761.94 121.52 L763.93 121.36 L765.92 121.26 L767.91 121.2 L769.9 121.15 L771.89 121.09 L773.88 120.99 L775.87 120.83 L777.86 120.63 L779.85 120.37 L781.84 120.08 L783.83 119.78 L785.82 119.49 L787.81 119.24 L789.8 119.02 L791.79 118.85 L793.78 118.72 L795.77 118.62 L797.76 118.51 L799.75 118.37 L801.74 118.2 L803.73 117.97 L805.72 117.68 L807.71 117.35 L809.7 116.98" stroke="#7ab6da" stroke-width="0.5" fill="none" opacity="0.8"/>
<path d="M670.4 183.59 L672.39 183.59 L674.38 183.58 L676.37 183.58 L678.36 183.57 L680.35 183.56 L682.34 183.55 L684.33 183.53 L686.32 183.51 L688.31 183.48 L690.3 183.44 L692.29 183.39 L694.28 183.32 L696.27 183.24 L698.26 183.12 L700.25 182.98 L702.24 182.79 L704.23 182.54 L706.22 182.22 L708.21 181.81 L710.2 181.26 L712.19 180.54 L714.18 179.6 L716.17 178.38 L718.16 176.79 L720.15 174.75 L722.14 172.18 L724.13 169 L726.12 165.15 L728.11 160.65 L730.1 155.58 L732.09 150.15 L734.08 144.65 L736.07 139.39 L738.06 134.65 L740.05 130.59 L742.04 127.26 L744.03 124.62 L746.02 122.51 L748.01 120.89 L750 119.71 L751.99 118.9 L753.98 118.39 L755.97 118.11 L757.96 117.99 L759.95 117.94 L761.94 117.91 L763.93 117.81 L765.92 117.62 L767.91 117.31 L769.9 116.9 L771.89 116.42 L773.88 115.9 L775.87 115.41 L777.86 114.99 L779.85 114.67 L781.84 114.46 L783.83 114.34 L785.82 114.29 L787.81 114.25 L789.8 114.17 L791.79 114.01 L793.78 113.73 L795.77 113.32 L797.76 112.8 L799.75 112.2 L801.74 111.57 L803.73 110.97 L805.72 110.43 L807.71 109.99 L809.7 109.66" stroke="#5a78c8" stroke-width="0.5" fill="none" opacity="0.8"/>
<path d="M670.4 183.58 L672.39 183.58 L674.38 183.57 L676.37 183.56 L678.36 183.55 L680.35 183.53 L682.34 183.51 L684.33 183.48 L686.32 183.43 L688.31 183.38 L690.3 183.31 L692.29 183.21 L694.28 183.08 L696.27 182.91 L698.26 182.69 L700.25 182.39 L702.24 182.01 L704.23 181.5 L706.22 180.83 L708.21 179.94 L710.2 178.77 L712.19 177.22 L714.18 175.19 L716.17 172.54 L718.16 169.13 L720.15 164.81 L722.14 159.49 L724.13 153.18 L726.12 146.02 L728.11 138.37 L730.1 130.73 L732.09 123.63 L734.08 117.48 L736.07 112.46 L738.06 108.56 L740.05 105.59 L742.04 103.21 L744.03 101.33 L746.02 99.85 L748.01 98.7 L750 97.83 L751.99 97.21 L753.98 96.81 L755.97 96.59 L757.96 96.49 L759.95 96.45 L761.94 96.4 L763.93 96.27 L765.92 96.02 L767.91 95.64 L769.9 95.12 L771.89 94.51 L773.88 93.84 L775.87 93.18 L777.86 92.59 L779.85 92.1 L781.84 91.73 L783.83 91.47 L785.82 91.29 L787.81 91.14 L789.8 90.95 L791.79 90.67 L793.78 90.27 L795.77 89.73 L797.76 89.04 L799.75 88.26 L801.74 87.43 L803.73 86.61 L805.72 85.85 L807.71 85.2 L809.7 84.67" stroke="#b8387e" stroke-width="0.5" fill="none" opacity="0.8"/>
<path d="M670.4 183.58 L672.39 183.58 L674.38 183.57 L676.37 183.56 L678.36 183.55 L680.35 183.53 L682.34 183.51 L684.33 183.48 L686.32 183.44 L688.31 183.39 L690.3 183.32 L692.29 183.22 L694.28 183.1 L696.27 182.93 L698.26 182.71 L700.25 182.41 L702.24 182.01 L704.23 181.49 L706.22 180.8 L708.21 179.88 L710.2 178.69 L712.19 177.13 L714.18 175.1 L716.17 172.47 L718.16 169.12 L720.15 164.91 L722.14 159.75 L724.13 153.63 L726.12 146.75 L728.11 139.46 L730.1 132.28 L732.09 125.76 L734.08 120.29 L736.07 116.04 L738.06 112.96 L740.05 110.83 L742.04 109.34 L744.03 108.33 L746.02 107.61 L748.01 107.02 L750 106.47 L751.99 105.91 L753.98 105.34 L755.97 104.77 L757.96 104.25 L759.95 103.82 L761.94 103.5 L763.93 103.3 L765.92 103.2 L767.91 103.18 L769.9 103.17 L771.89 103.14 L773.88 103.02 L775.87 102.79 L777.86 102.42 L779.85 101.94 L781.84 101.38 L783.83 100.77 L785.82 100.19 L787.81 99.67 L789.8 99.25 L791.79 98.94 L793.78 98.73 L795.77 98.59 L797.76 98.46 L799.75 98.3 L801.74 98.05 L803.73 97.69 L805.72 97.19 L807.71 96.58 L809.7 95.88" stroke="#7346a0" stroke-width="0.5" fill="none" opacity="0.8"/>
<path d="M670.4 183.59 L672.39 183.59 L674.38 183.59 L676.37 183.58 L678.36 183.58 L680.35 183.57 L682.34 183.56 L684.33 183.55 L686.32 183.53 L688.31 183.51 L690.3 183.48 L692.29 183.44 L694.28 183.38 L696.27 183.31 L698.26 183.22 L700.25 183.09 L702.24 182.92 L704.23 182.69 L706.22 182.39 L708.21 181.99 L710.2 181.47 L712.19 180.78 L714.18 179.89 L716.17 178.72 L718.16 177.2 L720.15 175.22 L722.14 172.66 L724.13 169.41 L726.12 165.36 L728.11 160.48 L730.1 154.85 L732.09 148.73 L734.08 142.56 L736.07 136.81 L738.06 131.9 L740.05 128.02 L742.04 125.2 L744.03 123.25 L746.02 121.87 L748.01 120.88 L750 120.12 L751.99 119.44 L753.98 118.78 L755.97 118.13 L757.96 117.5 L759.95 116.94 L761.94 116.49 L763.93 116.19 L765.92 116.04 L767.91 116.03 L769.9 116.12 L771.89 116.24 L773.88 116.34 L775.87 116.33 L777.86 116.19 L779.85 115.9 L781.84 115.46 L783.83 114.91 L785.82 114.32 L787.81 113.74 L789.8 113.25 L791.79 112.89 L793.78 112.67 L795.77 112.57 L797.76 112.57 L799.75 112.6 L801.74 112.59 L803.73 112.48 L805.72 112.23 L807.71 111.82 L809.7 111.27" stroke="#4a4aa8" stroke-width="0.5" fill="none" opacity="0.8"/>
<path d="M670.4 183.59 L672.39 183.59 L674.38 183.58 L676.37 183.58 L678.36 183.57 L680.35 183.56 L682.34 183.54 L684.33 183.52 L686.32 183.49 L688.31 183.46 L690.3 183.41 L692.29 183.35 L694.28 183.26 L696.27 183.15 L698.26 182.99 L700.25 182.79 L702.24 182.51 L704.23 182.13 L706.22 181.63 L708.21 180.96 L710.2 180.07 L712.19 178.89 L714.18 177.33 L716.17 175.29 L718.16 172.64 L720.15 169.24 L722.14 164.98 L724.13 159.8 L726.12 153.75 L728.11 147.07 L730.1 140.18 L732.09 133.61 L734.08 127.83 L736.07 123.12 L738.06 119.55 L740.05 117 L742.04 115.2 L744.03 113.97 L746.02 113.14 L748.01 112.57 L750 112.14 L751.99 111.76 L753.98 111.39 L755.97 111 L757.96 110.61 L759.95 110.22 L761.94 109.85 L763.93 109.53 L765.92 109.26 L767.91 109.06 L769.9 108.9 L771.89 108.77 L773.88 108.64 L775.87 108.48 L777.86 108.27 L779.85 108 L781.84 107.65 L783.83 107.23 L785.82 106.77 L787.81 106.3 L789.8 105.83 L791.79 105.41 L793.78 105.03 L795.77 104.71 L797.76 104.43 L799.75 104.18 L801.74 103.93 L803.73 103.65 L805.72 103.31 L807.71 102.91 L809.7 102.43" stroke="#9a58b0" stroke-width="0.5" fill="none" opacity="0.8"/>
<path d="M670.4 183.59 L672.39 183.58 L674.38 183.58 L676.37 183.57 L678.36 183.56 L680.35 183.55 L682.34 183.54 L684.33 183.52 L686.32 183.49 L688.31 183.45 L690.3 183.41 L692.29 183.34 L694.28 183.26 L696.27 183.15 L698.26 183.01 L700.25 182.82 L702.24 182.57 L704.23 182.24 L706.22 181.81 L708.21 181.25 L710.2 180.51 L712.19 179.53 L714.18 178.26 L716.17 176.59 L718.16 174.43 L720.15 171.66 L722.14 168.17 L724.13 163.88 L726.12 158.76 L728.11 152.91 L730.1 146.59 L732.09 140.16 L734.08 134.07 L736.07 128.68 L738.06 124.21 L740.05 120.68 L742.04 118 L744.03 115.92 L746.02 114.3 L748.01 113.07 L750 112.13 L751.99 111.42 L753.98 110.89 L755.97 110.52 L757.96 110.26 L759.95 110.08 L761.94 109.94 L763.93 109.81 L765.92 109.64 L767.91 109.41 L769.9 109.12 L771.89 108.75 L773.88 108.34 L775.87 107.89 L777.86 107.44 L779.85 107.01 L781.84 106.63 L783.83 106.3 L785.82 106.03 L787.81 105.79 L789.8 105.57 L791.79 105.33 L793.78 105.05 L795.77 104.69 L797.76 104.27 L799.75 103.77 L801.74 103.21 L803.73 102.62 L805.72 102.04 L807.71 101.47 L809.7 100.95" stroke="#3f55b0" stroke-width="0.5" fill="none" opacity="0.8"/>
<path d="M670.4 183.59 L672.39 183.59 L674.38 183.58 L676.37 183.58 L678.36 183.57 L680.35 183.56 L682.34 183.55 L684.33 183.53 L686.32 183.5 L688.31 183.47 L690.3 183.43 L692.29 183.37 L694.28 183.29 L696.27 183.19 L698.26 183.04 L700.25 182.85 L702.24 182.6 L704.23 182.25 L706.22 181.79 L708.21 181.17 L710.2 180.34 L712.19 179.23 L714.18 177.75 L716.17 175.81 L718.16 173.29 L720.15 170.05 L722.14 165.99 L724.13 161.05 L726.12 155.3 L728.11 148.95 L730.1 142.39 L732.09 136.11 L734.08 130.55 L736.07 125.98 L738.06 122.44 L740.05 119.85 L742.04 117.98 L744.03 116.68 L746.02 115.82 L748.01 115.27 L750 114.92 L751.99 114.69 L753.98 114.51 L755.97 114.34 L757.96 114.14 L759.95 113.9 L761.94 113.63 L763.93 113.33 L765.92 113.02 L767.91 112.73 L769.9 112.48 L771.89 112.27 L773.88 112.1 L775.87 111.98 L777.86 111.87 L779.85 111.77 L781.84 111.64 L783.83 111.46 L785.82 111.23 L787.81 110.93 L789.8 110.59 L791.79 110.21 L793.78 109.82 L795.77 109.44 L797.76 109.1 L799.75 108.8 L801.74 108.54 L803.73 108.32 L805.72 108.13 L807.71 107.93 L809.7 107.7" stroke="#5a78c8" stroke-width="0.5" fill="none" opacity="0.8"/>
<path d="M670.4 183.6 L672.39 183.59 L674.38 183.59 L676.37 183.59 L678.36 183.59 L680.35 183.58 L682.34 183.57 L684.33 183.57 L686.32 183.55 L688.31 183.54 L690.3 183.52 L692.29 183.49 L694.28 183.45 L696.27 183.39 L698.26 183.32 L700.25 183.22 L702.24 183.09 L704.23 182.91 L706.22 182.67 L708.21 182.35 L710.2 181.91 L712.19 181.34 L714.18 180.57 L716.17 179.53 L718.16 178.16 L720.15 176.33 L722.14 173.92 L724.13 170.78 L726.12 166.81 L728.11 161.94 L730.1 156.26 L732.09 150.05 L734.08 143.77 L736.07 137.94 L738.06 133 L740.05 129.13 L742.04 126.31 L744.03 124.33 L746.02 122.9 L748.01 121.82 L750 120.97 L751.99 120.25 L753.98 119.61 L755.97 119.05 L757.96 118.58 L759.95 118.23 L761.94 117.99 L763.93 117.88 L765.92 117.86 L767.91 117.9 L769.9 117.96 L771.89 117.97 L773.88 117.89 L775.87 117.71 L777.86 117.41 L779.85 117.01 L781.84 116.54 L783.83 116.06 L785.82 115.61 L787.81 115.23 L789.8 114.94 L791.79 114.76 L793.78 114.67 L795.77 114.62 L797.76 114.58 L799.75 114.49 L801.74 114.32 L803.73 114.03 L805.72 113.62 L807.71 113.12 L809.7 112.55" stroke="#4a4aa8" stroke-width="0.5" fill="none" opacity="0.8"/>
<path d="M670.4 183.59 L672.39 183.58 L674.38 183.58 L676.37 183.57 L678.36 183.56 L680.35 183.55 L682.34 183.53 L684.33 183.51 L686.32 183.49 L688.31 183.45 L690.3 183.4 L692.29 183.34 L694.28 183.26 L696.27 183.15 L698.26 183.01 L700.25 182.82 L702.24 182.57 L704.23 182.24 L706.22 181.82 L708.21 181.27 L710.2 180.55 L712.19 179.62 L714.18 178.41 L716.17 176.84 L718.16 174.81 L720.15 172.2 L722.14 168.9 L724.13 164.82 L726.12 159.93 L728.11 154.32 L730.1 148.24 L732.09 142.05 L734.08 136.21 L736.07 131.08 L738.06 126.88 L740.05 123.64 L742.04 121.23 L744.03 119.39 L746.02 117.95 L748.01 116.79 L750 115.82 L751.99 114.99 L753.98 114.28 L755.97 113.72 L757.96 113.31 L759.95 113.05 L761.94 112.94 L763.93 112.95 L765.92 113.01 L767.91 113.08 L769.9 113.09 L771.89 113 L773.88 112.78 L775.87 112.43 L777.86 111.98 L779.85 111.46 L781.84 110.94 L783.83 110.47 L785.82 110.09 L787.81 109.82 L789.8 109.67 L791.79 109.61 L793.78 109.6 L795.77 109.57 L797.76 109.49 L799.75 109.3 L801.74 108.97 L803.73 108.52 L805.72 107.96 L807.71 107.34 L809.7 106.72" stroke="#4a66bc" stroke-width="0.5" fill="none" opacity="0.8"/>
<path d="M670.4 183.59 L672.39 183.59 L674.38 183.58 L676.37 183.58 L678.36 183.57 L680.35 183.56 L682.34 183.55 L684.33 183.53 L686.32 183.5 L688.31 183.47 L690.3 183.42 L692.29 183.35 L694.28 183.27 L696.27 183.15 L698.26 183 L700.25 182.78 L702.24 182.49 L704.23 182.1 L706.22 181.56 L708.21 180.83 L710.2 179.84 L712.19 178.53 L714.18 176.77 L716.17 174.46 L718.16 171.43 L720.15 167.54 L722.14 162.65 L724.13 156.67 L726.12 149.67 L728.11 141.93 L730.1 133.96 L732.09 126.37 L734.08 119.71 L736.07 114.31 L738.06 110.23 L740.05 107.36 L742.04 105.36 L744.03 104.07 L746.02 103.31 L748.01 102.88 L750 102.63 L751.99 102.42 L753.98 102.17 L755.97 101.81 L757.96 101.33 L759.95 100.76 L761.94 100.13 L763.93 99.51 L765.92 98.96 L767.91 98.51 L769.9 98.2 L771.89 98.01 L773.88 97.92 L775.87 97.87 L777.86 97.8 L779.85 97.64 L781.84 97.36 L783.83 96.92 L785.82 96.33 L787.81 95.62 L789.8 94.86 L791.79 94.09 L793.78 93.38 L795.77 92.79 L797.76 92.32 L799.75 91.98 L801.74 91.73 L803.73 91.51 L805.72 91.28 L807.71 90.96 L809.7 90.5" stroke="#7346a0" stroke-width="0.5" fill="none" opacity="0.8"/>
<path d="M670.4 183.59 L672.39 183.59 L674.38 183.59 L676.37 183.59 L678.36 183.58 L680.35 183.57 L682.34 183.57 L684.33 183.55 L686.32 183.54 L688.31 183.52 L690.3 183.49 L692.29 183.45 L694.28 183.4 L696.27 183.33 L698.26 183.25 L700.25 183.13 L702.24 182.97 L704.23 182.76 L706.22 182.48 L708.21 182.09 L710.2 181.58 L712.19 180.89 L714.18 179.97 L716.17 178.74 L718.16 177.13 L720.15 175.03 L722.14 172.34 L724.13 168.98 L726.12 164.88 L728.11 160.08 L730.1 154.71 L732.09 149.06 L734.08 143.5 L736.07 138.4 L738.06 134.03 L740.05 130.49 L742.04 127.77 L744.03 125.75 L746.02 124.3 L748.01 123.34 L750 122.77 L751.99 122.5 L753.98 122.42 L755.97 122.44 L757.96 122.48 L759.95 122.47 L761.94 122.37 L763.93 122.16 L765.92 121.84 L767.91 121.45 L769.9 121.04 L771.89 120.65 L773.88 120.34 L775.87 120.13 L777.86 120.04 L779.85 120.06 L781.84 120.14 L783.83 120.24 L785.82 120.31 L787.81 120.29 L789.8 120.16 L791.79 119.89 L793.78 119.52 L795.77 119.07 L797.76 118.59 L799.75 118.14 L801.74 117.76 L803.73 117.49 L805.72 117.33 L807.71 117.28 L809.7 117.29" stroke="#4a4aa8" stroke-width="0.5" fill="none" opacity="0.8"/>
<path d="M670.4 183.58 L672.39 183.57 L674.38 183.57 L676.37 183.56 L678.36 183.54 L680.35 183.53 L682.34 183.5 L684.33 183.47 L686.32 183.43 L688.31 183.38 L690.3 183.31 L692.29 183.22 L694.28 183.11 L696.27 182.96 L698.26 182.76 L700.25 182.5 L702.24 182.16 L704.23 181.72 L706.22 181.13 L708.21 180.37 L710.2 179.38 L712.19 178.1 L714.18 176.44 L716.17 174.31 L718.16 171.6 L720.15 168.19 L722.14 163.99 L724.13 158.94 L726.12 153.04 L728.11 146.45 L730.1 139.46 L732.09 132.49 L734.08 125.97 L736.07 120.26 L738.06 115.57 L740.05 111.92 L742.04 109.19 L744.03 107.09 L746.02 105.58 L748.01 104.5 L750 103.73 L751.99 103.14 L753.98 102.67 L755.97 102.24 L757.96 101.83 L759.95 101.41 L761.94 100.98 L763.93 100.55 L765.92 100.12 L767.91 99.71 L769.9 99.34 L771.89 98.99 L773.88 98.67 L775.87 98.37 L777.86 98.07 L779.85 97.75 L781.84 97.4 L783.83 96.99 L785.82 96.54 L787.81 96.03 L789.8 95.49 L791.79 94.92 L793.78 94.35 L795.77 93.79 L797.76 93.25 L799.75 92.74 L801.74 92.26 L803.73 91.79 L805.72 91.32 L807.71 90.83 L809.7 90.3" stroke="#cf5d9c" stroke-width="0.5" fill="none" opacity="0.8"/>
<path d="M670.4 183.58 L672.39 183.57 L674.38 183.56 L676.37 183.54 L678.36 183.52 L680.35 183.5 L682.34 183.47 L684.33 183.42 L686.32 183.36 L688.31 183.29 L690.3 183.18 L692.29 183.04 L694.28 182.86 L696.27 182.61 L698.26 182.28 L700.25 181.85 L702.24 181.27 L704.23 180.5 L706.22 179.49 L708.21 178.16 L710.2 176.41 L712.19 174.13 L714.18 171.15 L716.17 167.34 L718.16 162.54 L720.15 156.65 L722.14 149.69 L724.13 141.87 L726.12 133.59 L728.11 125.45 L730.1 118.05 L732.09 111.8 L734.08 106.88 L736.07 103.23 L738.06 100.6 L740.05 98.63 L742.04 97.21 L744.03 96.15 L746.02 95.32 L748.01 94.64 L750 94.05 L751.99 93.54 L753.98 93.1 L755.97 92.74 L757.96 92.44 L759.95 92.19 L761.94 91.98 L763.93 91.79 L765.92 91.59 L767.91 91.36 L769.9 91.07 L771.89 90.73 L773.88 90.32 L775.87 89.86 L777.86 89.37 L779.85 88.88 L781.84 88.4 L783.83 87.95 L785.82 87.55 L787.81 87.19 L789.8 86.85 L791.79 86.52 L793.78 86.18 L795.77 85.8 L797.76 85.37 L799.75 84.87 L801.74 84.31 L803.73 83.7 L805.72 83.06 L807.71 82.42 L809.7 81.79" stroke="#d47aae" stroke-width="0.5" fill="none" opacity="0.8"/>
<path d="M670.4 183.59 L672.39 183.58 L674.38 183.58 L676.37 183.57 L678.36 183.57 L680.35 183.55 L682.34 183.54 L684.33 183.52 L686.32 183.49 L688.31 183.45 L690.3 183.41 L692.29 183.34 L694.28 183.26 L696.27 183.14 L698.26 182.99 L700.25 182.8 L702.24 182.54 L704.23 182.2 L706.22 181.74 L708.21 181.14 L710.2 180.34 L712.19 179.27 L714.18 177.86 L716.17 176 L718.16 173.59 L720.15 170.49 L722.14 166.59 L724.13 161.82 L726.12 156.2 L728.11 149.86 L730.1 143.13 L732.09 136.42 L734.08 130.18 L736.07 124.75 L738.06 120.28 L740.05 116.76 L742.04 114.07 L744.03 111.92 L746.02 110.31 L748.01 109.14 L750 108.32 L751.99 107.8 L753.98 107.51 L755.97 107.38 L757.96 107.34 L759.95 107.31 L761.94 107.24 L763.93 107.08 L765.92 106.8 L767.91 106.39 L769.9 105.9 L771.89 105.36 L773.88 104.82 L775.87 104.33 L777.86 103.94 L779.85 103.65 L781.84 103.48 L783.83 103.37 L785.82 103.31 L787.81 103.21 L789.8 103.05 L791.79 102.78 L793.78 102.38 L795.77 101.85 L797.76 101.23 L799.75 100.56 L801.74 99.89 L803.73 99.28 L805.72 98.75 L807.71 98.34 L809.7 98.03" stroke="#6a58b4" stroke-width="0.5" fill="none" opacity="0.8"/>
<path d="M670.4 183.59 L672.39 183.59 L674.38 183.59 L676.37 183.58 L678.36 183.58 L680.35 183.57 L682.34 183.56 L684.33 183.55 L686.32 183.53 L688.31 183.5 L690.3 183.47 L692.29 183.42 L694.28 183.35 L696.27 183.27 L698.26 183.15 L700.25 182.99 L702.24 182.77 L704.23 182.48 L706.22 182.09 L708.21 181.56 L710.2 180.85 L712.19 179.88 L714.18 178.58 L716.17 176.84 L718.16 174.52 L720.15 171.47 L722.14 167.54 L724.13 162.6 L726.12 156.63 L728.11 149.75 L730.1 142.31 L732.09 134.87 L734.08 128.01 L736.07 122.18 L738.06 117.56 L740.05 114.1 L742.04 111.59 L744.03 109.7 L746.02 108.34 L748.01 107.35 L750 106.64 L751.99 106.14 L753.98 105.8 L755.97 105.56 L757.96 105.4 L759.95 105.27 L761.94 105.14 L763.93 104.98 L765.92 104.76 L767.91 104.48 L769.9 104.15 L771.89 103.77 L773.88 103.37 L775.87 102.98 L777.86 102.61 L779.85 102.29 L781.84 102.01 L783.83 101.77 L785.82 101.56 L787.81 101.36 L789.8 101.13 L791.79 100.85 L793.78 100.52 L795.77 100.12 L797.76 99.66 L799.75 99.15 L801.74 98.63 L803.73 98.11 L805.72 97.62 L807.71 97.16 L809.7 96.76" stroke="#b060a8" stroke-width="0.5" fill="none" opacity="0.8"/>
<rect x="670.4" y="65.4" width="139.3" height="118.2" fill="none" stroke="#888" stroke-width="0.7"/>
<line x1="668.8" y1="182.4" x2="811.2" y2="182.4" stroke="#5cc15a" stroke-width="1.5"/>
<text transform="translate(661.8,67) scale(0.0922,0.1)" font-size="26" font-weight="bold" fill="#555">6.000</text>
<text transform="translate(661.8,86.7) scale(0.0922,0.1)" font-size="26" font-weight="bold" fill="#555">5.000</text>
<text transform="translate(661.8,106.4) scale(0.0922,0.1)" font-size="26" font-weight="bold" fill="#555">4.000</text>
<text transform="translate(661.8,126.1) scale(0.0922,0.1)" font-size="26" font-weight="bold" fill="#555">3.000</text>
<text transform="translate(661.8,145.8) scale(0.0922,0.1)" font-size="26" font-weight="bold" fill="#555">2.000</text>
<text transform="translate(661.8,165.5) scale(0.0922,0.1)" font-size="26" font-weight="bold" fill="#555">1.000</text>
<text transform="translate(669.75,189.5) scale(0.0899,0.1)" font-size="26" font-weight="bold" fill="#555">0</text>
<text transform="translate(689.65,189.5) scale(0.0899,0.1)" font-size="26" font-weight="bold" fill="#555">5</text>
<text transform="translate(709,189.5) scale(0.083,0.1)" font-size="26" font-weight="bold" fill="#555">10</text>
<text transform="translate(728.9,189.5) scale(0.083,0.1)" font-size="26" font-weight="bold" fill="#555">15</text>
<text transform="translate(748.8,189.5) scale(0.083,0.1)" font-size="26" font-weight="bold" fill="#555">20</text>
<text transform="translate(768.7,189.5) scale(0.083,0.1)" font-size="26" font-weight="bold" fill="#555">25</text>
<text transform="translate(788.6,189.5) scale(0.083,0.1)" font-size="26" font-weight="bold" fill="#555">30</text>
<text transform="translate(808.5,189.5) scale(0.083,0.1)" font-size="26" font-weight="bold" fill="#555">35</text>
<text transform="translate(722.6,64.6) scale(0.0966,0.1)" font-size="28" font-weight="bold" fill="#222" stroke="#222" stroke-width="1">Amplification Plot</text>
<text transform="translate(736.4,194.4) scale(0.0956,0.1)" font-size="29" font-weight="bold" fill="#222" stroke="#222" stroke-width="1.2">Cycle</text>
<text transform="translate(656.4,127.6) rotate(-90) scale(0.1)" font-size="28" textLength="60" lengthAdjust="spacingAndGlyphs" font-weight="bold" fill="#333">ΔRn</text>
<line x1="654" y1="196.3" x2="811.5" y2="196.3" stroke="#eee6d4" stroke-width="0.5"/>
    </g>
    <g id="g3" class="im">
<g fill="none" stroke="#000" stroke-width="1.9" stroke-linecap="round" stroke-linejoin="round">
<path d="M390.6 345.8 L383 349.3 H429.5 L431.5 349.8 H479.5 L481.5 350.2 H540.6"/>
<path d="M383.4 357.7 H430.5 L432.5 358.1 H540.8 L532.6 362.5"/>
</g>
<rect x="406.45" y="347.7" width="3.3" height="4" rx="1.4" fill="#f4b41c"/>
<rect x="406.45" y="355.8" width="3.3" height="4.1" rx="1.4" fill="#f4b41c"/>
<rect x="446.25" y="347.7" width="3.3" height="4" rx="1.4" fill="#e8221d"/>
<rect x="446.25" y="355.8" width="3.3" height="4.1" rx="1.4" fill="#e8221d"/>
<rect x="500.15" y="347.7" width="3.3" height="4" rx="1.4" fill="#1fa84c"/>
<rect x="500.15" y="355.8" width="3.3" height="4.1" rx="1.4" fill="#1fa84c"/>
<text transform="translate(401.9,355.75) scale(0.0851,0.1)" font-size="37" font-weight="bold" fill="#0a0a0a" stroke="#0a0a0a" stroke-width="1.6">Locus 1</text>
<text transform="translate(441.3,355.75) scale(0.0851,0.1)" font-size="37" font-weight="bold" fill="#0a0a0a" stroke="#0a0a0a" stroke-width="1.6">Locus 2</text>
<text transform="translate(496.1,355.75) scale(0.0851,0.1)" font-size="37" font-weight="bold" fill="#0a0a0a" stroke="#0a0a0a" stroke-width="1.6">Locus 3</text>
<polygon points="425.9,345.03 421,345.03 421,343.9 417.9,345.6 421,347.3 421,346.18 425.9,346.18" fill="#2a78cc"/>
<text transform="translate(421.2,343.4) scale(0.1087,0.1)" font-size="29.5" font-weight="bold" fill="#0a0a0a" stroke="#0a0a0a" stroke-width="1.6">R1</text>
<polygon points="466.1,345.03 460.8,345.03 460.8,343.9 457.7,345.6 460.8,347.3 460.8,346.18 466.1,346.18" fill="#2a78cc"/>
<text transform="translate(461.3,343.6) scale(0.1087,0.1)" font-size="29.5" font-weight="bold" fill="#0a0a0a" stroke="#0a0a0a" stroke-width="1.6">R2</text>
<polygon points="518.3,345.32 512.7,345.32 512.7,344.2 509.6,345.9 512.7,347.6 512.7,346.47 518.3,346.47" fill="#2a78cc"/>
<text transform="translate(513.3,343.7) scale(0.1087,0.1)" font-size="29.5" font-weight="bold" fill="#0a0a0a" stroke="#0a0a0a" stroke-width="1.6">R3</text>
<polygon points="390.3,362.57 396.6,362.57 396.6,363.7 399.7,362 396.6,360.3 396.6,361.43 390.3,361.43" fill="#2a78cc"/>
<text transform="translate(392.8,366.4) scale(0.1136,0.1)" font-size="29.5" font-weight="bold" fill="#0a0a0a" stroke="#0a0a0a" stroke-width="1.6">P1</text>
<polygon points="427.7,362.38 433.9,362.38 433.9,363.5 437,361.8 433.9,360.1 433.9,361.23 427.7,361.23" fill="#2a78cc"/>
<text transform="translate(430.3,366.5) scale(0.1136,0.1)" font-size="29.5" font-weight="bold" fill="#0a0a0a" stroke="#0a0a0a" stroke-width="1.6">P2</text>
<polygon points="482.8,362.38 489.1,362.38 489.1,363.5 492.2,361.8 489.1,360.1 489.1,361.23 482.8,361.23" fill="#2a78cc"/>
<text transform="translate(485.2,366.4) scale(0.1136,0.1)" font-size="29.5" font-weight="bold" fill="#0a0a0a" stroke="#0a0a0a" stroke-width="1.6">P3</text>
<polygon points="447.65,365.8 447.65,369.6 445.9,369.6 449.5,374.2 453.1,369.6 451.35,369.6 451.35,365.8" fill="#1f6fc2"/>
<text transform="translate(454.5,371.1) scale(0.0892,0.1)" font-size="39" font-weight="bold" fill="#0a0a0a" stroke="#0a0a0a" stroke-width="1.6">多重PCR</text>
<polygon points="447.95,405 447.95,409.3 446.1,409.3 449.8,414 453.5,409.3 451.65,409.3 451.65,405" fill="#1f6fc2"/>
<text transform="translate(454.5,409.9) scale(0.0844,0.1)" font-size="38" font-weight="bold" fill="#0a0a0a" stroke="#0a0a0a" stroke-width="1.6">连接标签Index</text>
<polygon points="409.75,444.8 409.75,448.6 407.9,448.6 411.6,453.2 415.3,448.6 413.45,448.6 413.45,444.8" fill="#1f6fc2"/>
<text transform="translate(416.9,450.1) scale(0.0885,0.1)" font-size="39" font-weight="bold" fill="#0a0a0a" stroke="#0a0a0a" stroke-width="1.6">测序</text>
<polygon points="446.8,474.75 451.5,474.75 451.5,476.3 455.3,473 451.5,469.7 451.5,471.25 446.8,471.25" fill="#1f6fc2"/>
<text transform="translate(446.8,468.1) scale(0.0803,0.1)" font-size="38" font-weight="bold" fill="#0a0a0a" stroke="#0a0a0a" stroke-width="1.6">分析</text>
<rect x="388.6" y="373.8" width="26.2" height="1.53" fill="#f2b51d"/><rect x="388.6" y="375.3" width="26.2" height="1.53" fill="#f8dc92"/><rect x="388.6" y="376.8" width="26.2" height="1.53" fill="#f2b51d"/><rect x="388.6" y="378.3" width="26.2" height="1.53" fill="#f8dc92"/><rect x="388.6" y="379.8" width="26.2" height="1.63" fill="#f2b51d"/><rect x="388.6" y="381.4" width="26.2" height="1.63" fill="#fdf1d6"/><rect x="388.6" y="383" width="26.2" height="2.83" fill="#f4c13c"/><rect x="388.6" y="385.8" width="26.2" height="1.23" fill="#f2b51d"/><rect x="388.6" y="387" width="26.2" height="1.63" fill="#f6cc62"/><rect x="388.6" y="388.6" width="26.2" height="1.43" fill="#f2b51d"/><rect x="388.6" y="390" width="26.2" height="1.83" fill="#fdf1d6"/><rect x="388.6" y="391.8" width="26.2" height="2.13" fill="#f2b51d"/>
<rect x="438.6" y="373.8" width="25.8" height="1.53" fill="#e8232a"/><rect x="438.6" y="375.3" width="25.8" height="1.53" fill="#f29496"/><rect x="438.6" y="376.8" width="25.8" height="1.53" fill="#e8232a"/><rect x="438.6" y="378.3" width="25.8" height="1.53" fill="#f29496"/><rect x="438.6" y="379.8" width="25.8" height="1.63" fill="#e8232a"/><rect x="438.6" y="381.4" width="25.8" height="1.63" fill="#fde2e2"/><rect x="438.6" y="383" width="25.8" height="2.83" fill="#ec4248"/><rect x="438.6" y="385.8" width="25.8" height="1.23" fill="#e8232a"/><rect x="438.6" y="387" width="25.8" height="1.63" fill="#ee6064"/><rect x="438.6" y="388.6" width="25.8" height="1.43" fill="#e8232a"/><rect x="438.6" y="390" width="25.8" height="1.83" fill="#fde2e2"/><rect x="438.6" y="391.8" width="25.8" height="1.93" fill="#e8232a"/><rect x="438.6" y="393.7" width="25.8" height="1.13" fill="#ee6064"/><rect x="438.6" y="394.8" width="25.8" height="1.53" fill="#e8232a"/><rect x="438.6" y="396.3" width="25.8" height="1.83" fill="#fde2e2"/><rect x="438.6" y="398.1" width="25.8" height="1.93" fill="#e8232a"/>
<rect x="488.9" y="373.8" width="25.8" height="1.53" fill="#1ea74e"/><rect x="488.9" y="375.3" width="25.8" height="1.53" fill="#93d4aa"/><rect x="488.9" y="376.8" width="25.8" height="1.53" fill="#1ea74e"/><rect x="488.9" y="378.3" width="25.8" height="1.53" fill="#93d4aa"/><rect x="488.9" y="379.8" width="25.8" height="1.63" fill="#1ea74e"/><rect x="488.9" y="381.4" width="25.8" height="1.63" fill="#e0f3e7"/><rect x="488.9" y="383" width="25.8" height="2.83" fill="#3bb365"/><rect x="488.9" y="385.8" width="25.8" height="1.23" fill="#1ea74e"/><rect x="488.9" y="387" width="25.8" height="1.63" fill="#5cc081"/><rect x="488.9" y="388.6" width="25.8" height="1.43" fill="#1ea74e"/><rect x="488.9" y="390" width="25.8" height="1.83" fill="#e0f3e7"/><rect x="488.9" y="391.8" width="25.8" height="1.93" fill="#1ea74e"/><rect x="488.9" y="393.7" width="25.8" height="1.13" fill="#5cc081"/><rect x="488.9" y="394.8" width="25.8" height="1.93" fill="#1ea74e"/>
<rect x="388.6" y="417.1" width="26.2" height="1.93" fill="#f2b51d"/><rect x="388.6" y="419" width="26.2" height="1.73" fill="#f8dc92"/><rect x="388.6" y="420.7" width="26.2" height="1.33" fill="#f2b51d"/><rect x="388.6" y="422" width="26.2" height="1.93" fill="#f8dc92"/><rect x="388.6" y="423.9" width="26.2" height="1.93" fill="#f4c13c"/>
<rect x="388.6" y="425.8" width="26.2" height="2.23" fill="#e8232a"/><rect x="388.6" y="428" width="26.2" height="1.03" fill="#f29496"/><rect x="388.6" y="429" width="26.2" height="1.53" fill="#e8232a"/><rect x="388.6" y="430.5" width="26.2" height="1.43" fill="#ec4248"/><rect x="388.6" y="431.9" width="26.2" height="1.33" fill="#e8232a"/>
<rect x="388.6" y="433.2" width="26.2" height="2.53" fill="#1ea74e"/><rect x="388.6" y="435.7" width="26.2" height="1.33" fill="#e0f3e7"/><rect x="388.6" y="437" width="26.2" height="2.03" fill="#1ea74e"/><rect x="388.6" y="439" width="26.2" height="1.13" fill="#e0f3e7"/><rect x="388.6" y="440.1" width="26.2" height="1.93" fill="#1ea74e"/>
<text transform="translate(394,415.7) scale(0.0825,0.1)" font-size="37" font-weight="bold" fill="#0a0a0a" stroke="#0a0a0a" stroke-width="1.6">Sample 1</text>
<rect x="419.5" y="417.1" width="26" height="1.93" fill="#f2b51d"/><rect x="419.5" y="419" width="26" height="1.73" fill="#f8dc92"/><rect x="419.5" y="420.7" width="26" height="1.33" fill="#f2b51d"/><rect x="419.5" y="422" width="26" height="1.93" fill="#f8dc92"/><rect x="419.5" y="423.9" width="26" height="1.93" fill="#f4c13c"/>
<rect x="419.5" y="425.8" width="26" height="2.23" fill="#e8232a"/><rect x="419.5" y="428" width="26" height="1.03" fill="#f29496"/><rect x="419.5" y="429" width="26" height="1.53" fill="#e8232a"/><rect x="419.5" y="430.5" width="26" height="1.43" fill="#ec4248"/><rect x="419.5" y="431.9" width="26" height="1.33" fill="#e8232a"/>
<rect x="419.5" y="433.2" width="26" height="2.53" fill="#1ea74e"/><rect x="419.5" y="435.7" width="26" height="1.33" fill="#e0f3e7"/><rect x="419.5" y="437" width="26" height="2.03" fill="#1ea74e"/><rect x="419.5" y="439" width="26" height="1.13" fill="#e0f3e7"/><rect x="419.5" y="440.1" width="26" height="1.93" fill="#1ea74e"/>
<text transform="translate(424.7,415.7) scale(0.0825,0.1)" font-size="37" font-weight="bold" fill="#0a0a0a" stroke="#0a0a0a" stroke-width="1.6">Sample 2</text>
<rect x="449" y="417.1" width="25.6" height="1.93" fill="#f2b51d"/><rect x="449" y="419" width="25.6" height="1.73" fill="#f8dc92"/><rect x="449" y="420.7" width="25.6" height="1.33" fill="#f2b51d"/><rect x="449" y="422" width="25.6" height="1.93" fill="#f8dc92"/><rect x="449" y="423.9" width="25.6" height="1.93" fill="#f4c13c"/>
<rect x="449" y="425.8" width="25.6" height="2.23" fill="#e8232a"/><rect x="449" y="428" width="25.6" height="1.03" fill="#f29496"/><rect x="449" y="429" width="25.6" height="1.53" fill="#e8232a"/><rect x="449" y="430.5" width="25.6" height="1.43" fill="#ec4248"/><rect x="449" y="431.9" width="25.6" height="1.33" fill="#e8232a"/>
<rect x="449" y="433.2" width="25.6" height="2.53" fill="#1ea74e"/><rect x="449" y="435.7" width="25.6" height="1.33" fill="#e0f3e7"/><rect x="449" y="437" width="25.6" height="2.03" fill="#1ea74e"/><rect x="449" y="439" width="25.6" height="1.13" fill="#e0f3e7"/><rect x="449" y="440.1" width="25.6" height="1.93" fill="#1ea74e"/>
<text transform="translate(454.6,415.7) scale(0.0825,0.1)" font-size="37" font-weight="bold" fill="#0a0a0a" stroke="#0a0a0a" stroke-width="1.6">Sample 3</text>
<rect x="477.3" y="417.1" width="25.7" height="1.93" fill="#f2b51d"/><rect x="477.3" y="419" width="25.7" height="1.73" fill="#f8dc92"/><rect x="477.3" y="420.7" width="25.7" height="1.33" fill="#f2b51d"/><rect x="477.3" y="422" width="25.7" height="1.93" fill="#f8dc92"/><rect x="477.3" y="423.9" width="25.7" height="1.93" fill="#f4c13c"/>
<rect x="477.3" y="425.8" width="25.7" height="2.23" fill="#e8232a"/><rect x="477.3" y="428" width="25.7" height="1.03" fill="#f29496"/><rect x="477.3" y="429" width="25.7" height="1.53" fill="#e8232a"/><rect x="477.3" y="430.5" width="25.7" height="1.43" fill="#ec4248"/><rect x="477.3" y="431.9" width="25.7" height="1.33" fill="#e8232a"/>
<rect x="477.3" y="433.2" width="25.7" height="2.53" fill="#1ea74e"/><rect x="477.3" y="435.7" width="25.7" height="1.33" fill="#e0f3e7"/><rect x="477.3" y="437" width="25.7" height="2.03" fill="#1ea74e"/><rect x="477.3" y="439" width="25.7" height="1.13" fill="#e0f3e7"/><rect x="477.3" y="440.1" width="25.7" height="1.93" fill="#1ea74e"/>
<text transform="translate(482.3,415.7) scale(0.0825,0.1)" font-size="37" font-weight="bold" fill="#0a0a0a" stroke="#0a0a0a" stroke-width="1.6">Sample 4</text>
<rect x="506.6" y="417.1" width="25.8" height="1.93" fill="#f2b51d"/><rect x="506.6" y="419" width="25.8" height="1.73" fill="#f8dc92"/><rect x="506.6" y="420.7" width="25.8" height="1.33" fill="#f2b51d"/><rect x="506.6" y="422" width="25.8" height="1.93" fill="#f8dc92"/><rect x="506.6" y="423.9" width="25.8" height="1.93" fill="#f4c13c"/>
<rect x="506.6" y="425.8" width="25.8" height="2.23" fill="#e8232a"/><rect x="506.6" y="428" width="25.8" height="1.03" fill="#f29496"/><rect x="506.6" y="429" width="25.8" height="1.53" fill="#e8232a"/><rect x="506.6" y="430.5" width="25.8" height="1.43" fill="#ec4248"/><rect x="506.6" y="431.9" width="25.8" height="1.33" fill="#e8232a"/>
<rect x="506.6" y="433.2" width="25.8" height="2.53" fill="#1ea74e"/><rect x="506.6" y="435.7" width="25.8" height="1.33" fill="#e0f3e7"/><rect x="506.6" y="437" width="25.8" height="2.03" fill="#1ea74e"/><rect x="506.6" y="439" width="25.8" height="1.13" fill="#e0f3e7"/><rect x="506.6" y="440.1" width="25.8" height="1.93" fill="#1ea74e"/>
<text transform="translate(513.5,415.7) scale(0.0825,0.1)" font-size="37" font-weight="bold" fill="#0a0a0a" stroke="#0a0a0a" stroke-width="1.6">Sample 5</text>
<ellipse cx="414.5" cy="476.8" rx="17" ry="1.4" fill="#e4e4e4"/>
<rect x="398.4" y="462.8" width="15" height="7.6" fill="#f1f1f1"/>
<rect x="398.4" y="462.8" width="15" height="1.4" fill="#fbfbfb"/>
<rect x="398.6" y="470.2" width="15" height="5.3" rx="0.6" fill="#2b2b2d"/>
<rect x="399.2" y="471.6" width="14" height="0.7" fill="#55575a"/>
<rect x="413" y="459.9" width="17.7" height="15.7" rx="1" fill="#2d2d30"/>
<rect x="416.2" y="461.2" width="12.9" height="4.7" fill="#dfeaf6"/>
<rect x="419" y="462.3" width="7" height="2.4" fill="#8db4e2"/>
<rect x="400.5" y="475.5" width="3.4" height="0.9" fill="#1a1a1a"/><rect x="424.5" y="475.5" width="3.4" height="0.9" fill="#1a1a1a"/>
<text transform="translate(469.3,452.7) scale(0.0667,0.1)" font-size="43" fill="#444" stroke="#444" stroke-width="0.6">Variant Detection</text>
<rect x="493.7" y="455.3" width="1.6" height="20.3" fill="#c9cdf6"/>
<text transform="translate(466.3,458.25) scale(0.0492,0.1)" font-size="39" fill="#4a4a4a" stroke="#4a4a4a" stroke-width="0.7">GGTGTGTTATAGGAAGAAGTTGTGAGGGTAGGAAGAGGGTGATAT</text>
<text transform="translate(469,462.25) scale(0.0488,0.1)" font-size="39" fill="#4a4a4a" stroke="#4a4a4a" stroke-width="0.7">GTGTGTTATAGGAAGAAGTTGTGAGGGTAGGAAGAGGGTGATATAC</text>
<text transform="translate(477.7,465.65) scale(0.0478,0.1)" font-size="39" fill="#4a4a4a" stroke="#4a4a4a" stroke-width="0.7">TATAGGAAGAAGTTGTGAGGGTAGGAAGAGGGTGATATAC</text>
<text transform="translate(477.7,469.05) scale(0.0477,0.1)" font-size="39" fill="#4a4a4a" stroke="#4a4a4a" stroke-width="0.7">TATAGGAAGAAGTTATGAGGGTAGGAAGAGGGTGATATACACC</text>
<text transform="translate(477.7,472.35) scale(0.0478,0.1)" font-size="39" fill="#4a4a4a" stroke="#4a4a4a" stroke-width="0.7">TATAGGAAGAAGTTGTGAGGGTAGGAAGAGGGTGATATAC</text>
<text transform="translate(477,475.75) scale(0.0487,0.1)" font-size="39" fill="#4a4a4a" stroke="#4a4a4a" stroke-width="0.7">TATAGGAAGAAGTTGTGAGGGTAGGAAGAGGGTGATATACAC</text>
<rect x="493.9" y="466.5" width="1.2" height="2.2" fill="#ee6a6a" opacity="0.8"/>
    </g>
    <g id="g4" class="im">
<rect x="644.8" y="344.7" width="172.9" height="14.5" fill="#b9dfe3"/>
<rect x="644.8" y="360.6" width="172.9" height="13.05" fill="#e3f1f4"/>
<rect x="644.8" y="373.6" width="172.9" height="15.05" fill="#f0f7fa"/>
<rect x="644.8" y="388.6" width="172.9" height="14.15" fill="#e3f1f4"/>
<rect x="644.8" y="402.7" width="172.9" height="15.95" fill="#f0f7fa"/>
<rect x="644.8" y="418.6" width="172.9" height="14.55" fill="#e3f1f4"/>
<rect x="644.8" y="433.1" width="172.9" height="14.45" fill="#f0f7fa"/>
<rect x="670.9" y="344.7" width="0.7" height="102.8" fill="#fff" opacity="0.75"/>
<text transform="translate(650.8,355.7) scale(0.0772,0.1)" font-size="92" class="serif" font-weight="bold" fill="#e4f5f6">序列</text>
<text transform="translate(738,355.7) scale(0.0739,0.1)" font-size="92" class="serif" font-weight="bold" fill="#e4f5f6">内容</text>
<text transform="translate(656,370.1) scale(0.073,0.1)" font-size="89" class="serif" font-weight="bold" fill="#1c1c1c" stroke="#1c1c1c" stroke-width="2.4">1</text>
<text transform="translate(674.1,370.1) scale(0.0742,0.1)" font-size="88" class="serif" font-weight="bold" fill="#262626" stroke="#262626" stroke-width="1.8">Hi<tspan font-size="57" dy="-32">TM</tspan><tspan dy="32">-Primers</tspan><tspan font-weight="normal">建库试剂盒操作说明书</tspan></text>
<text transform="translate(656,384.1) scale(0.073,0.1)" font-size="89" class="serif" font-weight="bold" fill="#1c1c1c" stroke="#1c1c1c" stroke-width="2.4">2</text>
<text transform="translate(674.1,384.1) scale(0.0737,0.1)" font-size="88" class="serif" font-weight="bold" fill="#262626" stroke="#262626" stroke-width="1.8"><tspan font-weight="normal">引物序列信息</tspan></text>
<text transform="translate(656,398.65) scale(0.073,0.1)" font-size="89" class="serif" font-weight="bold" fill="#1c1c1c" stroke="#1c1c1c" stroke-width="2.4">3</text>
<text transform="translate(674.1,398.65) scale(0.0722,0.1)" font-size="88" class="serif" font-weight="bold" fill="#262626" stroke="#262626" stroke-width="1.8"><tspan font-weight="normal">特异性捕获引物</tspan>Mix<tspan font-weight="normal">（提供</tspan>1000 Sample<tspan font-weight="normal">预混引物）</tspan></text>
<text transform="translate(656,413.65) scale(0.073,0.1)" font-size="89" class="serif" font-weight="bold" fill="#1c1c1c" stroke="#1c1c1c" stroke-width="2.4">4</text>
<text transform="translate(674.1,413.65) scale(0.0729,0.1)" font-size="88" class="serif" font-weight="bold" fill="#262626" stroke="#262626" stroke-width="1.8"><tspan font-weight="normal">上下游标签引物</tspan></text>
<text transform="translate(656,428.85) scale(0.073,0.1)" font-size="89" class="serif" font-weight="bold" fill="#1c1c1c" stroke="#1c1c1c" stroke-width="2.4">5</text>
<text transform="translate(674.1,428.85) scale(0.0722,0.1)" font-size="88" class="serif" font-weight="bold" fill="#262626" stroke="#262626" stroke-width="1.8"><tspan font-weight="normal">阳性对照</tspan>DNA</text>
<text transform="translate(656,443.3) scale(0.073,0.1)" font-size="89" class="serif" font-weight="bold" fill="#1c1c1c" stroke="#1c1c1c" stroke-width="2.4">6</text>
<text transform="translate(674.1,443.3) scale(0.0729,0.1)" font-size="88" class="serif" font-weight="bold" fill="#262626" stroke="#262626" stroke-width="1.8">PCR<tspan font-weight="normal">扩增反应体系</tspan></text>
    </g>
  </svg>
</div>
<p id="p1">引物设计：根据客户需求(对连续区段，外显子靶标以及客户指定位点<span class="w4">)</span>，基于超高重<span class="n">PCR</span>的扩增子捕获测序，利用上海翼和生物自主开发的引物设计软件，设计特异性捕获引物。</p>
<p id="p2">引物优化：利用多重<span class="n">PCR</span>引物优化技术，使扩增子间均一性好，保证每个扩增子间拷贝数差异控制在平均深度的<span class="w1">5~10</span>倍以内(利用<span class="w2">ABI 7900</span>定量<span class="n">PCR</span>检测多重<span class="n">PCR</span>产物，根据ct值判读产物浓度，确保产物间的均一性<span class="w4">)</span>，<span class="w3">90%</span>扩增子<span class="w3">reads</span>数大于<span class="w3">15</span>，不浪费测序通量。</p>
<p id="p3">试剂盒组成：试剂盒包含包含从扩增到建库到测序前纯化所用到的所有内容，购买一个试剂盒即可完成整个建库过程。</p>
</body>
</html>
